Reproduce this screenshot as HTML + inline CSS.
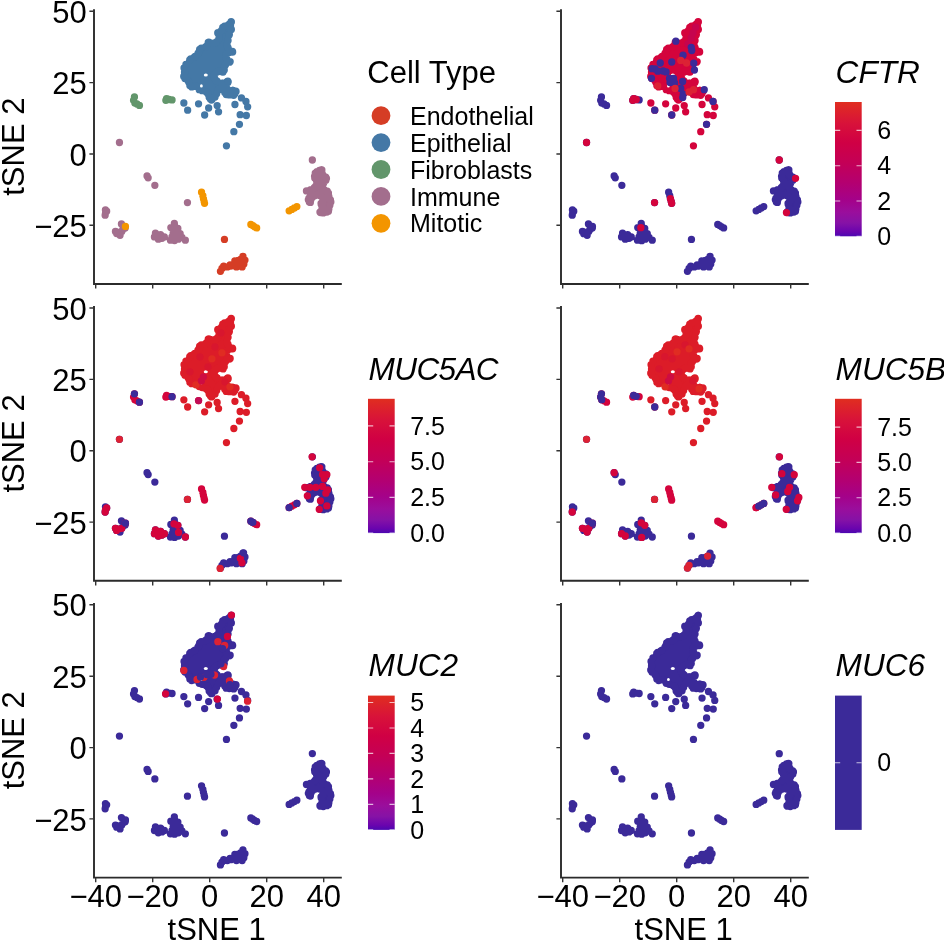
<!DOCTYPE html>
<html><head><meta charset="utf-8"><style>html,body{margin:0;padding:0;background:#fff;overflow:hidden;font-family:'Liberation Sans',sans-serif;}svg{display:block;will-change:transform}</style></head>
<body><svg width="944" height="941" viewBox="0 0 944 941">
<rect width="944" height="941" fill="#fff"/>
<defs><linearGradient id="grad" x1="0" y1="1" x2="0" y2="0"><stop offset="0.0" stop-color="#4C08B0"/><stop offset="0.035" stop-color="#6A04AE"/><stop offset="0.1" stop-color="#8612A6"/><stop offset="0.18" stop-color="#9A0E9C"/><stop offset="0.27" stop-color="#A4028A"/><stop offset="0.4" stop-color="#B40070"/><stop offset="0.55" stop-color="#C40056"/><stop offset="0.7" stop-color="#D00044"/><stop offset="0.84" stop-color="#D8123A"/><stop offset="1.0" stop-color="#E02E20"/></linearGradient></defs>
<path d="M94.00 9.30V284.00H341.80" fill="none" stroke="#2b2b2b" stroke-width="1.9"/>
<path d="M89.40 11.20H94.00M89.40 82.60H94.00M89.40 154.00H94.00M89.40 225.30H94.00M95.70 284.00V288.60M152.70 284.00V288.60M209.70 284.00V288.60M266.70 284.00V288.60M323.70 284.00V288.60" stroke="#333" stroke-width="1.4" fill="none"/>
<text x="86.80" y="22.80" font-family="Liberation Sans, sans-serif" font-size="31" text-anchor="end">50</text>
<text x="86.80" y="94.20" font-family="Liberation Sans, sans-serif" font-size="31" text-anchor="end">25</text>
<text x="86.80" y="165.60" font-family="Liberation Sans, sans-serif" font-size="31" text-anchor="end">0</text>
<text x="86.80" y="236.90" font-family="Liberation Sans, sans-serif" font-size="31" text-anchor="end">−25</text>
<text transform="translate(24 146.65) rotate(-90)" font-family="Liberation Sans, sans-serif" font-size="31" text-anchor="middle">tSNE 2</text>
<path d="M561.00 9.30V284.00H808.80" fill="none" stroke="#2b2b2b" stroke-width="1.9"/>
<path d="M556.40 11.20H561.00M556.40 82.60H561.00M556.40 154.00H561.00M556.40 225.30H561.00M562.70 284.00V288.60M619.70 284.00V288.60M676.70 284.00V288.60M733.70 284.00V288.60M790.70 284.00V288.60" stroke="#333" stroke-width="1.4" fill="none"/>
<path d="M94.00 306.10V580.80H341.80" fill="none" stroke="#2b2b2b" stroke-width="1.9"/>
<path d="M89.40 308.00H94.00M89.40 379.40H94.00M89.40 450.80H94.00M89.40 522.10H94.00M95.70 580.80V585.40M152.70 580.80V585.40M209.70 580.80V585.40M266.70 580.80V585.40M323.70 580.80V585.40" stroke="#333" stroke-width="1.4" fill="none"/>
<text x="86.80" y="319.60" font-family="Liberation Sans, sans-serif" font-size="31" text-anchor="end">50</text>
<text x="86.80" y="391.00" font-family="Liberation Sans, sans-serif" font-size="31" text-anchor="end">25</text>
<text x="86.80" y="462.40" font-family="Liberation Sans, sans-serif" font-size="31" text-anchor="end">0</text>
<text x="86.80" y="533.70" font-family="Liberation Sans, sans-serif" font-size="31" text-anchor="end">−25</text>
<text transform="translate(24 443.45) rotate(-90)" font-family="Liberation Sans, sans-serif" font-size="31" text-anchor="middle">tSNE 2</text>
<path d="M561.00 306.10V580.80H808.80" fill="none" stroke="#2b2b2b" stroke-width="1.9"/>
<path d="M556.40 308.00H561.00M556.40 379.40H561.00M556.40 450.80H561.00M556.40 522.10H561.00M562.70 580.80V585.40M619.70 580.80V585.40M676.70 580.80V585.40M733.70 580.80V585.40M790.70 580.80V585.40" stroke="#333" stroke-width="1.4" fill="none"/>
<path d="M94.00 602.90V877.60H341.80" fill="none" stroke="#2b2b2b" stroke-width="1.9"/>
<path d="M89.40 604.80H94.00M89.40 676.20H94.00M89.40 747.60H94.00M89.40 818.90H94.00M95.70 877.60V882.20M152.70 877.60V882.20M209.70 877.60V882.20M266.70 877.60V882.20M323.70 877.60V882.20" stroke="#333" stroke-width="1.4" fill="none"/>
<text x="86.80" y="616.40" font-family="Liberation Sans, sans-serif" font-size="31" text-anchor="end">50</text>
<text x="86.80" y="687.80" font-family="Liberation Sans, sans-serif" font-size="31" text-anchor="end">25</text>
<text x="86.80" y="759.20" font-family="Liberation Sans, sans-serif" font-size="31" text-anchor="end">0</text>
<text x="86.80" y="830.50" font-family="Liberation Sans, sans-serif" font-size="31" text-anchor="end">−25</text>
<text transform="translate(24 740.25) rotate(-90)" font-family="Liberation Sans, sans-serif" font-size="31" text-anchor="middle">tSNE 2</text>
<text x="95.70" y="906.90" font-family="Liberation Sans, sans-serif" font-size="31" text-anchor="middle">−40</text>
<text x="152.70" y="906.90" font-family="Liberation Sans, sans-serif" font-size="31" text-anchor="middle">−20</text>
<text x="209.70" y="906.90" font-family="Liberation Sans, sans-serif" font-size="31" text-anchor="middle">0</text>
<text x="266.70" y="906.90" font-family="Liberation Sans, sans-serif" font-size="31" text-anchor="middle">20</text>
<text x="323.70" y="906.90" font-family="Liberation Sans, sans-serif" font-size="31" text-anchor="middle">40</text>
<text x="216.70" y="940.0" font-family="Liberation Sans, sans-serif" font-size="31" text-anchor="middle">tSNE 1</text>
<path d="M561.00 602.90V877.60H808.80" fill="none" stroke="#2b2b2b" stroke-width="1.9"/>
<path d="M556.40 604.80H561.00M556.40 676.20H561.00M556.40 747.60H561.00M556.40 818.90H561.00M562.70 877.60V882.20M619.70 877.60V882.20M676.70 877.60V882.20M733.70 877.60V882.20M790.70 877.60V882.20" stroke="#333" stroke-width="1.4" fill="none"/>
<text x="562.70" y="906.90" font-family="Liberation Sans, sans-serif" font-size="31" text-anchor="middle">−40</text>
<text x="619.70" y="906.90" font-family="Liberation Sans, sans-serif" font-size="31" text-anchor="middle">−20</text>
<text x="676.70" y="906.90" font-family="Liberation Sans, sans-serif" font-size="31" text-anchor="middle">0</text>
<text x="733.70" y="906.90" font-family="Liberation Sans, sans-serif" font-size="31" text-anchor="middle">20</text>
<text x="790.70" y="906.90" font-family="Liberation Sans, sans-serif" font-size="31" text-anchor="middle">40</text>
<text x="683.70" y="940.0" font-family="Liberation Sans, sans-serif" font-size="31" text-anchor="middle">tSNE 1</text>
<defs><path id="epip" d="M231.3 18.4L229.4 20.4L228.0 22.4L228.0 22.5L227.9 22.5L227.9 22.6L227.8 22.6L227.7 22.7L227.7 22.7L227.6 22.8L223.6 24.1L220.9 25.9L220.0 29.0L219.9 29.1L219.9 29.2L219.9 29.3L219.8 29.4L219.7 29.4L219.7 29.5L219.6 29.6L219.5 29.6L219.4 29.6L216.3 30.9L215.3 32.9L217.1 36.6L217.1 36.7L217.2 36.8L217.2 36.9L217.2 36.9L217.2 37.0L217.2 37.1L217.2 37.2L217.2 37.3L217.1 37.4L217.1 37.4L217.0 37.5L215.0 40.3L215.0 40.4L214.9 40.5L214.9 40.5L214.8 40.6L214.7 40.6L214.6 40.6L214.6 40.7L214.5 40.7L214.4 40.7L211.6 41.0L211.5 41.0L211.4 41.0L211.3 41.0L211.3 41.0L211.2 40.9L211.1 40.9L211.0 40.9L208.7 39.5L206.4 41.1L205.5 44.2L205.4 44.2L205.4 44.3L205.3 44.4L205.3 44.5L205.2 44.5L205.2 44.6L205.1 44.7L205.0 44.7L204.9 44.7L204.9 44.8L200.2 46.1L197.8 47.9L196.6 51.8L196.5 51.9L196.5 51.9L196.4 52.0L196.4 52.1L196.3 52.1L193.5 54.9L193.5 55.0L193.4 55.1L193.3 55.1L189.3 57.0L188.1 58.4L184.1 63.1L181.8 67.6L182.4 72.1L182.4 72.2L182.4 72.3L182.4 72.4L181.5 76.8L183.3 79.9L186.6 82.5L186.6 82.5L186.7 82.6L186.7 82.7L186.8 82.7L186.8 82.8L186.8 82.9L186.9 83.0L187.9 86.9L191.0 89.2L195.6 88.5L195.7 88.5L195.7 88.5L195.8 88.5L195.9 88.5L196.0 88.6L196.1 88.6L196.2 88.6L196.2 88.7L196.3 88.7L196.4 88.8L196.4 88.9L196.5 88.9L196.5 89.0L197.7 91.5L201.5 92.7L201.5 92.7L205.6 94.1L205.7 94.2L205.8 94.2L205.8 94.3L205.9 94.3L206.0 94.4L206.0 94.5L206.1 94.5L206.1 94.6L206.1 94.7L206.2 94.8L207.1 98.3L208.7 100.4L211.2 103.1L213.4 101.3L216.8 98.4L218.7 94.6L220.2 91.1L220.2 91.1L220.3 91.0L220.3 90.9L220.4 90.9L220.4 90.8L220.5 90.7L220.6 90.7L220.7 90.7L220.7 90.6L220.8 90.6L220.9 90.6L221.0 90.6L221.1 90.6L221.2 90.6L221.3 90.6L221.4 90.7L221.4 90.7L221.5 90.8L221.6 90.8L221.6 90.9L221.7 90.9L221.8 91.0L221.8 91.1L221.8 91.2L222.8 93.6L225.0 96.6L229.1 97.1L234.6 97.7L236.7 95.0L238.6 91.5L237.3 89.1L233.3 88.4L233.3 88.4L227.8 86.9L227.7 86.8L227.6 86.8L227.5 86.8L227.4 86.7L227.4 86.7L227.3 86.6L227.3 86.5L227.2 86.4L227.2 86.4L227.1 86.3L227.1 86.2L227.1 86.1L227.1 86.0L227.1 85.9L227.1 85.8L227.1 85.7L227.2 85.7L227.2 85.6L227.2 85.5L227.3 85.4L227.4 85.4L227.4 85.3L227.5 85.3L229.4 84.0L230.7 81.9L229.6 80.0L226.2 79.7L223.7 81.3L223.6 81.3L223.5 81.3L223.4 81.4L223.3 81.4L223.3 81.4L223.2 81.4L223.1 81.4L223.0 81.4L222.9 81.4L222.8 81.3L218.0 79.2L218.0 79.2L217.9 79.1L217.8 79.1L217.8 79.0L217.7 79.0L217.7 78.9L216.3 76.8L216.2 76.7L216.2 76.6L216.1 76.6L216.1 76.5L216.1 76.4L216.1 76.3L216.1 76.2L216.1 76.1L216.1 76.0L216.2 75.9L216.2 75.9L216.3 75.8L216.3 75.7L216.4 75.6L218.5 73.6L218.5 73.6L218.6 73.5L218.7 73.5L218.8 73.5L218.9 73.4L219.0 73.4L219.1 73.4L219.1 73.4L219.2 73.4L219.3 73.4L222.0 74.1L224.1 74.7L226.4 70.6L226.4 67.4L226.4 67.3L226.4 67.2L226.4 67.1L226.5 67.1L226.5 67.0L226.6 66.9L226.6 66.8L226.7 66.8L226.7 66.7L226.8 66.7L230.9 63.9L233.1 61.8L232.2 60.4L228.1 57.0L228.1 56.9L228.0 56.9L228.0 56.8L227.9 56.7L227.9 56.6L227.8 56.6L227.8 56.5L227.8 56.4L227.8 56.3L227.8 56.2L227.8 56.1L227.8 56.1L227.9 56.0L227.9 55.9L227.9 55.8L228.0 55.7L228.0 55.7L228.1 55.6L228.2 55.6L229.6 54.6L229.6 54.5L229.7 54.5L229.8 54.5L229.9 54.4L230.0 54.4L230.0 54.4L233.7 54.1L235.2 52.1L234.2 50.0L229.5 46.0L229.4 45.9L229.4 45.9L229.3 45.8L229.3 45.7L229.3 45.6L229.2 45.5L229.2 45.4L229.2 45.4L229.2 45.3L229.2 45.2L229.2 45.1L230.2 41.0L231.3 35.5L231.3 35.4L231.4 35.4L233.6 29.5L232.6 26.3L232.6 26.2L232.6 26.1L232.6 26.0L232.6 25.9L232.6 25.9L232.6 25.8L233.7 21.4Z"/><path id="epib" d="M224.4 82.1a3.65 3.65 0 1 0 7.3 0a3.65 3.65 0 1 0 -7.3 0M223.1 82.0a3.65 3.65 0 1 0 7.3 0a3.65 3.65 0 1 0 -7.3 0M221.2 83.1a3.65 3.65 0 1 0 7.3 0a3.65 3.65 0 1 0 -7.3 0M220.9 83.3a3.65 3.65 0 1 0 7.3 0a3.65 3.65 0 1 0 -7.3 0M220.6 83.4a3.65 3.65 0 1 0 7.3 0a3.65 3.65 0 1 0 -7.3 0M220.3 83.5a3.65 3.65 0 1 0 7.3 0a3.65 3.65 0 1 0 -7.3 0M220.1 83.6a3.65 3.65 0 1 0 7.3 0a3.65 3.65 0 1 0 -7.3 0M219.8 83.6a3.65 3.65 0 1 0 7.3 0a3.65 3.65 0 1 0 -7.3 0M219.5 83.6a3.65 3.65 0 1 0 7.3 0a3.65 3.65 0 1 0 -7.3 0M219.2 83.6a3.65 3.65 0 1 0 7.3 0a3.65 3.65 0 1 0 -7.3 0M218.9 83.5a3.65 3.65 0 1 0 7.3 0a3.65 3.65 0 1 0 -7.3 0M218.6 83.4a3.65 3.65 0 1 0 7.3 0a3.65 3.65 0 1 0 -7.3 0M218.3 83.3a3.65 3.65 0 1 0 7.3 0a3.65 3.65 0 1 0 -7.3 0M213.5 81.2a3.65 3.65 0 1 0 7.3 0a3.65 3.65 0 1 0 -7.3 0M213.2 81.1a3.65 3.65 0 1 0 7.3 0a3.65 3.65 0 1 0 -7.3 0M213.0 81.0a3.65 3.65 0 1 0 7.3 0a3.65 3.65 0 1 0 -7.3 0M212.8 80.8a3.65 3.65 0 1 0 7.3 0a3.65 3.65 0 1 0 -7.3 0M212.5 80.6a3.65 3.65 0 1 0 7.3 0a3.65 3.65 0 1 0 -7.3 0M212.3 80.4a3.65 3.65 0 1 0 7.3 0a3.65 3.65 0 1 0 -7.3 0M212.2 80.1a3.65 3.65 0 1 0 7.3 0a3.65 3.65 0 1 0 -7.3 0M210.8 78.0a3.65 3.65 0 1 0 7.3 0a3.65 3.65 0 1 0 -7.3 0M210.6 77.8a3.65 3.65 0 1 0 7.3 0a3.65 3.65 0 1 0 -7.3 0M210.5 77.5a3.65 3.65 0 1 0 7.3 0a3.65 3.65 0 1 0 -7.3 0M210.4 77.2a3.65 3.65 0 1 0 7.3 0a3.65 3.65 0 1 0 -7.3 0M210.3 76.9a3.65 3.65 0 1 0 7.3 0a3.65 3.65 0 1 0 -7.3 0M210.3 76.6a3.65 3.65 0 1 0 7.3 0a3.65 3.65 0 1 0 -7.3 0M210.3 76.3a3.65 3.65 0 1 0 7.3 0a3.65 3.65 0 1 0 -7.3 0M210.3 76.0a3.65 3.65 0 1 0 7.3 0a3.65 3.65 0 1 0 -7.3 0M210.3 75.7a3.65 3.65 0 1 0 7.3 0a3.65 3.65 0 1 0 -7.3 0M210.4 75.4a3.65 3.65 0 1 0 7.3 0a3.65 3.65 0 1 0 -7.3 0M210.5 75.1a3.65 3.65 0 1 0 7.3 0a3.65 3.65 0 1 0 -7.3 0M210.6 74.8a3.65 3.65 0 1 0 7.3 0a3.65 3.65 0 1 0 -7.3 0M210.8 74.5a3.65 3.65 0 1 0 7.3 0a3.65 3.65 0 1 0 -7.3 0M211.0 74.3a3.65 3.65 0 1 0 7.3 0a3.65 3.65 0 1 0 -7.3 0M211.2 74.1a3.65 3.65 0 1 0 7.3 0a3.65 3.65 0 1 0 -7.3 0M213.3 72.1a3.65 3.65 0 1 0 7.3 0a3.65 3.65 0 1 0 -7.3 0M213.6 71.9a3.65 3.65 0 1 0 7.3 0a3.65 3.65 0 1 0 -7.3 0M213.8 71.7a3.65 3.65 0 1 0 7.3 0a3.65 3.65 0 1 0 -7.3 0M214.1 71.5a3.65 3.65 0 1 0 7.3 0a3.65 3.65 0 1 0 -7.3 0M214.4 71.4a3.65 3.65 0 1 0 7.3 0a3.65 3.65 0 1 0 -7.3 0M214.7 71.3a3.65 3.65 0 1 0 7.3 0a3.65 3.65 0 1 0 -7.3 0M215.0 71.2a3.65 3.65 0 1 0 7.3 0a3.65 3.65 0 1 0 -7.3 0M215.3 71.2a3.65 3.65 0 1 0 7.3 0a3.65 3.65 0 1 0 -7.3 0M215.6 71.2a3.65 3.65 0 1 0 7.3 0a3.65 3.65 0 1 0 -7.3 0M215.9 71.2a3.65 3.65 0 1 0 7.3 0a3.65 3.65 0 1 0 -7.3 0M216.2 71.3a3.65 3.65 0 1 0 7.3 0a3.65 3.65 0 1 0 -7.3 0M218.9 72.0a3.65 3.65 0 1 0 7.3 0a3.65 3.65 0 1 0 -7.3 0M219.4 72.1a3.65 3.65 0 1 0 7.3 0a3.65 3.65 0 1 0 -7.3 0M220.6 70.0a3.65 3.65 0 1 0 7.3 0a3.65 3.65 0 1 0 -7.3 0M220.6 67.4a3.65 3.65 0 1 0 7.3 0a3.65 3.65 0 1 0 -7.3 0M220.6 67.1a3.65 3.65 0 1 0 7.3 0a3.65 3.65 0 1 0 -7.3 0M220.6 66.8a3.65 3.65 0 1 0 7.3 0a3.65 3.65 0 1 0 -7.3 0M220.7 66.5a3.65 3.65 0 1 0 7.3 0a3.65 3.65 0 1 0 -7.3 0M220.8 66.2a3.65 3.65 0 1 0 7.3 0a3.65 3.65 0 1 0 -7.3 0M220.9 65.9a3.65 3.65 0 1 0 7.3 0a3.65 3.65 0 1 0 -7.3 0M221.1 65.7a3.65 3.65 0 1 0 7.3 0a3.65 3.65 0 1 0 -7.3 0M221.3 65.4a3.65 3.65 0 1 0 7.3 0a3.65 3.65 0 1 0 -7.3 0M221.5 65.2a3.65 3.65 0 1 0 7.3 0a3.65 3.65 0 1 0 -7.3 0M221.7 65.0a3.65 3.65 0 1 0 7.3 0a3.65 3.65 0 1 0 -7.3 0M221.9 64.8a3.65 3.65 0 1 0 7.3 0a3.65 3.65 0 1 0 -7.3 0M225.9 62.2a3.65 3.65 0 1 0 7.3 0a3.65 3.65 0 1 0 -7.3 0M226.5 61.6a3.65 3.65 0 1 0 7.3 0a3.65 3.65 0 1 0 -7.3 0M223.1 58.7a3.65 3.65 0 1 0 7.3 0a3.65 3.65 0 1 0 -7.3 0M222.8 58.5a3.65 3.65 0 1 0 7.3 0a3.65 3.65 0 1 0 -7.3 0M222.6 58.3a3.65 3.65 0 1 0 7.3 0a3.65 3.65 0 1 0 -7.3 0M222.5 58.0a3.65 3.65 0 1 0 7.3 0a3.65 3.65 0 1 0 -7.3 0M222.3 57.8a3.65 3.65 0 1 0 7.3 0a3.65 3.65 0 1 0 -7.3 0M222.2 57.5a3.65 3.65 0 1 0 7.3 0a3.65 3.65 0 1 0 -7.3 0M222.1 57.2a3.65 3.65 0 1 0 7.3 0a3.65 3.65 0 1 0 -7.3 0M222.0 56.9a3.65 3.65 0 1 0 7.3 0a3.65 3.65 0 1 0 -7.3 0M222.0 56.6a3.65 3.65 0 1 0 7.3 0a3.65 3.65 0 1 0 -7.3 0M222.0 56.3a3.65 3.65 0 1 0 7.3 0a3.65 3.65 0 1 0 -7.3 0M222.0 56.0a3.65 3.65 0 1 0 7.3 0a3.65 3.65 0 1 0 -7.3 0M222.0 55.7a3.65 3.65 0 1 0 7.3 0a3.65 3.65 0 1 0 -7.3 0M222.1 55.5a3.65 3.65 0 1 0 7.3 0a3.65 3.65 0 1 0 -7.3 0M222.2 55.2a3.65 3.65 0 1 0 7.3 0a3.65 3.65 0 1 0 -7.3 0M222.3 54.9a3.65 3.65 0 1 0 7.3 0a3.65 3.65 0 1 0 -7.3 0M222.4 54.6a3.65 3.65 0 1 0 7.3 0a3.65 3.65 0 1 0 -7.3 0M222.6 54.4a3.65 3.65 0 1 0 7.3 0a3.65 3.65 0 1 0 -7.3 0M222.8 54.2a3.65 3.65 0 1 0 7.3 0a3.65 3.65 0 1 0 -7.3 0M223.0 54.0a3.65 3.65 0 1 0 7.3 0a3.65 3.65 0 1 0 -7.3 0M223.2 53.8a3.65 3.65 0 1 0 7.3 0a3.65 3.65 0 1 0 -7.3 0M224.6 52.8a3.65 3.65 0 1 0 7.3 0a3.65 3.65 0 1 0 -7.3 0M224.9 52.6a3.65 3.65 0 1 0 7.3 0a3.65 3.65 0 1 0 -7.3 0M225.1 52.5a3.65 3.65 0 1 0 7.3 0a3.65 3.65 0 1 0 -7.3 0M225.4 52.4a3.65 3.65 0 1 0 7.3 0a3.65 3.65 0 1 0 -7.3 0M225.7 52.3a3.65 3.65 0 1 0 7.3 0a3.65 3.65 0 1 0 -7.3 0M225.9 52.2a3.65 3.65 0 1 0 7.3 0a3.65 3.65 0 1 0 -7.3 0M226.2 52.2a3.65 3.65 0 1 0 7.3 0a3.65 3.65 0 1 0 -7.3 0M228.9 52.0a3.65 3.65 0 1 0 7.3 0a3.65 3.65 0 1 0 -7.3 0M229.0 51.9a3.65 3.65 0 1 0 7.3 0a3.65 3.65 0 1 0 -7.3 0M228.8 51.3a3.65 3.65 0 1 0 7.3 0a3.65 3.65 0 1 0 -7.3 0M224.4 47.7a3.65 3.65 0 1 0 7.3 0a3.65 3.65 0 1 0 -7.3 0M224.2 47.4a3.65 3.65 0 1 0 7.3 0a3.65 3.65 0 1 0 -7.3 0M224.0 47.2a3.65 3.65 0 1 0 7.3 0a3.65 3.65 0 1 0 -7.3 0M223.8 47.0a3.65 3.65 0 1 0 7.3 0a3.65 3.65 0 1 0 -7.3 0M223.7 46.7a3.65 3.65 0 1 0 7.3 0a3.65 3.65 0 1 0 -7.3 0M223.6 46.4a3.65 3.65 0 1 0 7.3 0a3.65 3.65 0 1 0 -7.3 0M223.5 46.1a3.65 3.65 0 1 0 7.3 0a3.65 3.65 0 1 0 -7.3 0M223.4 45.8a3.65 3.65 0 1 0 7.3 0a3.65 3.65 0 1 0 -7.3 0M223.4 45.5a3.65 3.65 0 1 0 7.3 0a3.65 3.65 0 1 0 -7.3 0M223.4 45.2a3.65 3.65 0 1 0 7.3 0a3.65 3.65 0 1 0 -7.3 0M223.4 44.9a3.65 3.65 0 1 0 7.3 0a3.65 3.65 0 1 0 -7.3 0M223.4 44.6a3.65 3.65 0 1 0 7.3 0a3.65 3.65 0 1 0 -7.3 0M224.4 40.5a3.65 3.65 0 1 0 7.3 0a3.65 3.65 0 1 0 -7.3 0M225.5 35.1a3.65 3.65 0 1 0 7.3 0a3.65 3.65 0 1 0 -7.3 0M225.6 34.8a3.65 3.65 0 1 0 7.3 0a3.65 3.65 0 1 0 -7.3 0M225.7 34.6a3.65 3.65 0 1 0 7.3 0a3.65 3.65 0 1 0 -7.3 0M227.7 29.4a3.65 3.65 0 1 0 7.3 0a3.65 3.65 0 1 0 -7.3 0M226.9 26.9a3.65 3.65 0 1 0 7.3 0a3.65 3.65 0 1 0 -7.3 0M226.8 26.7a3.65 3.65 0 1 0 7.3 0a3.65 3.65 0 1 0 -7.3 0M226.8 26.4a3.65 3.65 0 1 0 7.3 0a3.65 3.65 0 1 0 -7.3 0M226.8 26.1a3.65 3.65 0 1 0 7.3 0a3.65 3.65 0 1 0 -7.3 0M226.8 25.8a3.65 3.65 0 1 0 7.3 0a3.65 3.65 0 1 0 -7.3 0M226.8 25.5a3.65 3.65 0 1 0 7.3 0a3.65 3.65 0 1 0 -7.3 0M226.8 25.2a3.65 3.65 0 1 0 7.3 0a3.65 3.65 0 1 0 -7.3 0M227.7 21.9a3.65 3.65 0 1 0 7.3 0a3.65 3.65 0 1 0 -7.3 0M227.5 21.7a3.65 3.65 0 1 0 7.3 0a3.65 3.65 0 1 0 -7.3 0M226.2 23.6a3.65 3.65 0 1 0 7.3 0a3.65 3.65 0 1 0 -7.3 0M226.1 23.9a3.65 3.65 0 1 0 7.3 0a3.65 3.65 0 1 0 -7.3 0M225.9 24.1a3.65 3.65 0 1 0 7.3 0a3.65 3.65 0 1 0 -7.3 0M225.7 24.3a3.65 3.65 0 1 0 7.3 0a3.65 3.65 0 1 0 -7.3 0M225.4 24.4a3.65 3.65 0 1 0 7.3 0a3.65 3.65 0 1 0 -7.3 0M225.2 24.6a3.65 3.65 0 1 0 7.3 0a3.65 3.65 0 1 0 -7.3 0M224.9 24.7a3.65 3.65 0 1 0 7.3 0a3.65 3.65 0 1 0 -7.3 0M224.7 24.8a3.65 3.65 0 1 0 7.3 0a3.65 3.65 0 1 0 -7.3 0M220.9 26.1a3.65 3.65 0 1 0 7.3 0a3.65 3.65 0 1 0 -7.3 0M219.1 27.3a3.65 3.65 0 1 0 7.3 0a3.65 3.65 0 1 0 -7.3 0M218.4 29.7a3.65 3.65 0 1 0 7.3 0a3.65 3.65 0 1 0 -7.3 0M218.3 29.9a3.65 3.65 0 1 0 7.3 0a3.65 3.65 0 1 0 -7.3 0M218.2 30.2a3.65 3.65 0 1 0 7.3 0a3.65 3.65 0 1 0 -7.3 0M218.0 30.5a3.65 3.65 0 1 0 7.3 0a3.65 3.65 0 1 0 -7.3 0M217.9 30.8a3.65 3.65 0 1 0 7.3 0a3.65 3.65 0 1 0 -7.3 0M217.6 31.0a3.65 3.65 0 1 0 7.3 0a3.65 3.65 0 1 0 -7.3 0M217.4 31.2a3.65 3.65 0 1 0 7.3 0a3.65 3.65 0 1 0 -7.3 0M217.2 31.4a3.65 3.65 0 1 0 7.3 0a3.65 3.65 0 1 0 -7.3 0M216.9 31.5a3.65 3.65 0 1 0 7.3 0a3.65 3.65 0 1 0 -7.3 0M216.6 31.7a3.65 3.65 0 1 0 7.3 0a3.65 3.65 0 1 0 -7.3 0M214.2 32.6a3.65 3.65 0 1 0 7.3 0a3.65 3.65 0 1 0 -7.3 0M214.1 32.9a3.65 3.65 0 1 0 7.3 0a3.65 3.65 0 1 0 -7.3 0M215.4 35.6a3.65 3.65 0 1 0 7.3 0a3.65 3.65 0 1 0 -7.3 0M215.6 35.9a3.65 3.65 0 1 0 7.3 0a3.65 3.65 0 1 0 -7.3 0M215.6 36.2a3.65 3.65 0 1 0 7.3 0a3.65 3.65 0 1 0 -7.3 0M215.7 36.5a3.65 3.65 0 1 0 7.3 0a3.65 3.65 0 1 0 -7.3 0M215.7 36.8a3.65 3.65 0 1 0 7.3 0a3.65 3.65 0 1 0 -7.3 0M215.7 37.1a3.65 3.65 0 1 0 7.3 0a3.65 3.65 0 1 0 -7.3 0M215.7 37.4a3.65 3.65 0 1 0 7.3 0a3.65 3.65 0 1 0 -7.3 0M215.7 37.7a3.65 3.65 0 1 0 7.3 0a3.65 3.65 0 1 0 -7.3 0M215.6 38.0a3.65 3.65 0 1 0 7.3 0a3.65 3.65 0 1 0 -7.3 0M215.5 38.3a3.65 3.65 0 1 0 7.3 0a3.65 3.65 0 1 0 -7.3 0M215.3 38.5a3.65 3.65 0 1 0 7.3 0a3.65 3.65 0 1 0 -7.3 0M215.2 38.8a3.65 3.65 0 1 0 7.3 0a3.65 3.65 0 1 0 -7.3 0M213.2 41.6a3.65 3.65 0 1 0 7.3 0a3.65 3.65 0 1 0 -7.3 0M213.0 41.8a3.65 3.65 0 1 0 7.3 0a3.65 3.65 0 1 0 -7.3 0M212.8 42.0a3.65 3.65 0 1 0 7.3 0a3.65 3.65 0 1 0 -7.3 0M212.6 42.2a3.65 3.65 0 1 0 7.3 0a3.65 3.65 0 1 0 -7.3 0M212.3 42.4a3.65 3.65 0 1 0 7.3 0a3.65 3.65 0 1 0 -7.3 0M212.1 42.5a3.65 3.65 0 1 0 7.3 0a3.65 3.65 0 1 0 -7.3 0M211.8 42.7a3.65 3.65 0 1 0 7.3 0a3.65 3.65 0 1 0 -7.3 0M211.5 42.8a3.65 3.65 0 1 0 7.3 0a3.65 3.65 0 1 0 -7.3 0M211.3 42.8a3.65 3.65 0 1 0 7.3 0a3.65 3.65 0 1 0 -7.3 0M211.0 42.9a3.65 3.65 0 1 0 7.3 0a3.65 3.65 0 1 0 -7.3 0M208.2 43.2a3.65 3.65 0 1 0 7.3 0a3.65 3.65 0 1 0 -7.3 0M207.9 43.2a3.65 3.65 0 1 0 7.3 0a3.65 3.65 0 1 0 -7.3 0M207.6 43.2a3.65 3.65 0 1 0 7.3 0a3.65 3.65 0 1 0 -7.3 0M207.3 43.2a3.65 3.65 0 1 0 7.3 0a3.65 3.65 0 1 0 -7.3 0M207.0 43.1a3.65 3.65 0 1 0 7.3 0a3.65 3.65 0 1 0 -7.3 0M206.8 43.0a3.65 3.65 0 1 0 7.3 0a3.65 3.65 0 1 0 -7.3 0M206.5 42.9a3.65 3.65 0 1 0 7.3 0a3.65 3.65 0 1 0 -7.3 0M206.2 42.7a3.65 3.65 0 1 0 7.3 0a3.65 3.65 0 1 0 -7.3 0M205.1 42.1a3.65 3.65 0 1 0 7.3 0a3.65 3.65 0 1 0 -7.3 0M204.6 42.4a3.65 3.65 0 1 0 7.3 0a3.65 3.65 0 1 0 -7.3 0M203.9 44.8a3.65 3.65 0 1 0 7.3 0a3.65 3.65 0 1 0 -7.3 0M203.8 45.1a3.65 3.65 0 1 0 7.3 0a3.65 3.65 0 1 0 -7.3 0M203.7 45.3a3.65 3.65 0 1 0 7.3 0a3.65 3.65 0 1 0 -7.3 0M203.5 45.6a3.65 3.65 0 1 0 7.3 0a3.65 3.65 0 1 0 -7.3 0M203.3 45.9a3.65 3.65 0 1 0 7.3 0a3.65 3.65 0 1 0 -7.3 0M203.1 46.1a3.65 3.65 0 1 0 7.3 0a3.65 3.65 0 1 0 -7.3 0M202.9 46.3a3.65 3.65 0 1 0 7.3 0a3.65 3.65 0 1 0 -7.3 0M202.7 46.5a3.65 3.65 0 1 0 7.3 0a3.65 3.65 0 1 0 -7.3 0M202.4 46.6a3.65 3.65 0 1 0 7.3 0a3.65 3.65 0 1 0 -7.3 0M202.1 46.8a3.65 3.65 0 1 0 7.3 0a3.65 3.65 0 1 0 -7.3 0M201.8 46.9a3.65 3.65 0 1 0 7.3 0a3.65 3.65 0 1 0 -7.3 0M197.6 48.1a3.65 3.65 0 1 0 7.3 0a3.65 3.65 0 1 0 -7.3 0M196.0 49.3a3.65 3.65 0 1 0 7.3 0a3.65 3.65 0 1 0 -7.3 0M195.0 52.4a3.65 3.65 0 1 0 7.3 0a3.65 3.65 0 1 0 -7.3 0M194.9 52.7a3.65 3.65 0 1 0 7.3 0a3.65 3.65 0 1 0 -7.3 0M194.8 53.0a3.65 3.65 0 1 0 7.3 0a3.65 3.65 0 1 0 -7.3 0M194.6 53.2a3.65 3.65 0 1 0 7.3 0a3.65 3.65 0 1 0 -7.3 0M194.4 53.5a3.65 3.65 0 1 0 7.3 0a3.65 3.65 0 1 0 -7.3 0M194.2 53.7a3.65 3.65 0 1 0 7.3 0a3.65 3.65 0 1 0 -7.3 0M191.4 56.5a3.65 3.65 0 1 0 7.3 0a3.65 3.65 0 1 0 -7.3 0M191.2 56.7a3.65 3.65 0 1 0 7.3 0a3.65 3.65 0 1 0 -7.3 0M190.9 56.9a3.65 3.65 0 1 0 7.3 0a3.65 3.65 0 1 0 -7.3 0M190.6 57.1a3.65 3.65 0 1 0 7.3 0a3.65 3.65 0 1 0 -7.3 0M187.0 58.8a3.65 3.65 0 1 0 7.3 0a3.65 3.65 0 1 0 -7.3 0M186.1 59.9a3.65 3.65 0 1 0 7.3 0a3.65 3.65 0 1 0 -7.3 0M182.3 64.3a3.65 3.65 0 1 0 7.3 0a3.65 3.65 0 1 0 -7.3 0M180.4 67.9a3.65 3.65 0 1 0 7.3 0a3.65 3.65 0 1 0 -7.3 0M180.9 71.8a3.65 3.65 0 1 0 7.3 0a3.65 3.65 0 1 0 -7.3 0M180.9 72.2a3.65 3.65 0 1 0 7.3 0a3.65 3.65 0 1 0 -7.3 0M180.9 72.5a3.65 3.65 0 1 0 7.3 0a3.65 3.65 0 1 0 -7.3 0M180.9 72.8a3.65 3.65 0 1 0 7.3 0a3.65 3.65 0 1 0 -7.3 0M180.1 76.4a3.65 3.65 0 1 0 7.3 0a3.65 3.65 0 1 0 -7.3 0M181.3 78.4a3.65 3.65 0 1 0 7.3 0a3.65 3.65 0 1 0 -7.3 0M184.3 80.8a3.65 3.65 0 1 0 7.3 0a3.65 3.65 0 1 0 -7.3 0M184.5 81.0a3.65 3.65 0 1 0 7.3 0a3.65 3.65 0 1 0 -7.3 0M184.7 81.2a3.65 3.65 0 1 0 7.3 0a3.65 3.65 0 1 0 -7.3 0M184.9 81.4a3.65 3.65 0 1 0 7.3 0a3.65 3.65 0 1 0 -7.3 0M185.0 81.6a3.65 3.65 0 1 0 7.3 0a3.65 3.65 0 1 0 -7.3 0M185.2 81.9a3.65 3.65 0 1 0 7.3 0a3.65 3.65 0 1 0 -7.3 0M185.3 82.1a3.65 3.65 0 1 0 7.3 0a3.65 3.65 0 1 0 -7.3 0M185.3 82.4a3.65 3.65 0 1 0 7.3 0a3.65 3.65 0 1 0 -7.3 0M186.2 85.5a3.65 3.65 0 1 0 7.3 0a3.65 3.65 0 1 0 -7.3 0M188.0 86.9a3.65 3.65 0 1 0 7.3 0a3.65 3.65 0 1 0 -7.3 0M191.6 86.3a3.65 3.65 0 1 0 7.3 0a3.65 3.65 0 1 0 -7.3 0M191.9 86.3a3.65 3.65 0 1 0 7.3 0a3.65 3.65 0 1 0 -7.3 0M192.2 86.3a3.65 3.65 0 1 0 7.3 0a3.65 3.65 0 1 0 -7.3 0M192.5 86.3a3.65 3.65 0 1 0 7.3 0a3.65 3.65 0 1 0 -7.3 0M192.8 86.4a3.65 3.65 0 1 0 7.3 0a3.65 3.65 0 1 0 -7.3 0M193.1 86.5a3.65 3.65 0 1 0 7.3 0a3.65 3.65 0 1 0 -7.3 0M193.4 86.6a3.65 3.65 0 1 0 7.3 0a3.65 3.65 0 1 0 -7.3 0M193.7 86.8a3.65 3.65 0 1 0 7.3 0a3.65 3.65 0 1 0 -7.3 0M193.9 86.9a3.65 3.65 0 1 0 7.3 0a3.65 3.65 0 1 0 -7.3 0M194.1 87.1a3.65 3.65 0 1 0 7.3 0a3.65 3.65 0 1 0 -7.3 0M194.4 87.3a3.65 3.65 0 1 0 7.3 0a3.65 3.65 0 1 0 -7.3 0M194.6 87.6a3.65 3.65 0 1 0 7.3 0a3.65 3.65 0 1 0 -7.3 0M194.7 87.8a3.65 3.65 0 1 0 7.3 0a3.65 3.65 0 1 0 -7.3 0M194.9 88.1a3.65 3.65 0 1 0 7.3 0a3.65 3.65 0 1 0 -7.3 0M195.6 89.7a3.65 3.65 0 1 0 7.3 0a3.65 3.65 0 1 0 -7.3 0M198.5 90.7a3.65 3.65 0 1 0 7.3 0a3.65 3.65 0 1 0 -7.3 0M198.6 90.7a3.65 3.65 0 1 0 7.3 0a3.65 3.65 0 1 0 -7.3 0M202.7 92.1a3.65 3.65 0 1 0 7.3 0a3.65 3.65 0 1 0 -7.3 0M202.9 92.2a3.65 3.65 0 1 0 7.3 0a3.65 3.65 0 1 0 -7.3 0M203.2 92.3a3.65 3.65 0 1 0 7.3 0a3.65 3.65 0 1 0 -7.3 0M203.5 92.5a3.65 3.65 0 1 0 7.3 0a3.65 3.65 0 1 0 -7.3 0M203.7 92.7a3.65 3.65 0 1 0 7.3 0a3.65 3.65 0 1 0 -7.3 0M203.9 92.9a3.65 3.65 0 1 0 7.3 0a3.65 3.65 0 1 0 -7.3 0M204.1 93.1a3.65 3.65 0 1 0 7.3 0a3.65 3.65 0 1 0 -7.3 0M204.3 93.4a3.65 3.65 0 1 0 7.3 0a3.65 3.65 0 1 0 -7.3 0M204.4 93.6a3.65 3.65 0 1 0 7.3 0a3.65 3.65 0 1 0 -7.3 0M204.5 93.9a3.65 3.65 0 1 0 7.3 0a3.65 3.65 0 1 0 -7.3 0M204.6 94.2a3.65 3.65 0 1 0 7.3 0a3.65 3.65 0 1 0 -7.3 0M205.5 97.3a3.65 3.65 0 1 0 7.3 0a3.65 3.65 0 1 0 -7.3 0M206.7 99.0a3.65 3.65 0 1 0 7.3 0a3.65 3.65 0 1 0 -7.3 0M207.8 100.1a3.65 3.65 0 1 0 7.3 0a3.65 3.65 0 1 0 -7.3 0M208.4 99.6a3.65 3.65 0 1 0 7.3 0a3.65 3.65 0 1 0 -7.3 0M211.4 97.1a3.65 3.65 0 1 0 7.3 0a3.65 3.65 0 1 0 -7.3 0M213.0 93.7a3.65 3.65 0 1 0 7.3 0a3.65 3.65 0 1 0 -7.3 0M214.5 90.3a3.65 3.65 0 1 0 7.3 0a3.65 3.65 0 1 0 -7.3 0M214.6 90.0a3.65 3.65 0 1 0 7.3 0a3.65 3.65 0 1 0 -7.3 0M214.8 89.7a3.65 3.65 0 1 0 7.3 0a3.65 3.65 0 1 0 -7.3 0M215.0 89.5a3.65 3.65 0 1 0 7.3 0a3.65 3.65 0 1 0 -7.3 0M215.2 89.3a3.65 3.65 0 1 0 7.3 0a3.65 3.65 0 1 0 -7.3 0M215.4 89.1a3.65 3.65 0 1 0 7.3 0a3.65 3.65 0 1 0 -7.3 0M215.7 88.9a3.65 3.65 0 1 0 7.3 0a3.65 3.65 0 1 0 -7.3 0M215.9 88.7a3.65 3.65 0 1 0 7.3 0a3.65 3.65 0 1 0 -7.3 0M216.2 88.6a3.65 3.65 0 1 0 7.3 0a3.65 3.65 0 1 0 -7.3 0M216.5 88.5a3.65 3.65 0 1 0 7.3 0a3.65 3.65 0 1 0 -7.3 0M216.8 88.5a3.65 3.65 0 1 0 7.3 0a3.65 3.65 0 1 0 -7.3 0M217.1 88.4a3.65 3.65 0 1 0 7.3 0a3.65 3.65 0 1 0 -7.3 0M217.4 88.4a3.65 3.65 0 1 0 7.3 0a3.65 3.65 0 1 0 -7.3 0M217.7 88.4a3.65 3.65 0 1 0 7.3 0a3.65 3.65 0 1 0 -7.3 0M218.0 88.5a3.65 3.65 0 1 0 7.3 0a3.65 3.65 0 1 0 -7.3 0M218.3 88.5a3.65 3.65 0 1 0 7.3 0a3.65 3.65 0 1 0 -7.3 0M218.6 88.7a3.65 3.65 0 1 0 7.3 0a3.65 3.65 0 1 0 -7.3 0M218.8 88.8a3.65 3.65 0 1 0 7.3 0a3.65 3.65 0 1 0 -7.3 0M219.1 88.9a3.65 3.65 0 1 0 7.3 0a3.65 3.65 0 1 0 -7.3 0M219.3 89.1a3.65 3.65 0 1 0 7.3 0a3.65 3.65 0 1 0 -7.3 0M219.6 89.3a3.65 3.65 0 1 0 7.3 0a3.65 3.65 0 1 0 -7.3 0M219.8 89.6a3.65 3.65 0 1 0 7.3 0a3.65 3.65 0 1 0 -7.3 0M219.9 89.8a3.65 3.65 0 1 0 7.3 0a3.65 3.65 0 1 0 -7.3 0M220.1 90.1a3.65 3.65 0 1 0 7.3 0a3.65 3.65 0 1 0 -7.3 0M220.2 90.3a3.65 3.65 0 1 0 7.3 0a3.65 3.65 0 1 0 -7.3 0M221.1 92.5a3.65 3.65 0 1 0 7.3 0a3.65 3.65 0 1 0 -7.3 0M222.6 94.6a3.65 3.65 0 1 0 7.3 0a3.65 3.65 0 1 0 -7.3 0M225.7 94.9a3.65 3.65 0 1 0 7.3 0a3.65 3.65 0 1 0 -7.3 0M230.0 95.3a3.65 3.65 0 1 0 7.3 0a3.65 3.65 0 1 0 -7.3 0M231.2 93.8a3.65 3.65 0 1 0 7.3 0a3.65 3.65 0 1 0 -7.3 0M232.4 91.5a3.65 3.65 0 1 0 7.3 0a3.65 3.65 0 1 0 -7.3 0M232.2 91.1a3.65 3.65 0 1 0 7.3 0a3.65 3.65 0 1 0 -7.3 0M229.3 90.5a3.65 3.65 0 1 0 7.3 0a3.65 3.65 0 1 0 -7.3 0M229.0 90.5a3.65 3.65 0 1 0 7.3 0a3.65 3.65 0 1 0 -7.3 0M223.5 89.0a3.65 3.65 0 1 0 7.3 0a3.65 3.65 0 1 0 -7.3 0M223.2 88.9a3.65 3.65 0 1 0 7.3 0a3.65 3.65 0 1 0 -7.3 0M223.0 88.8a3.65 3.65 0 1 0 7.3 0a3.65 3.65 0 1 0 -7.3 0M222.7 88.6a3.65 3.65 0 1 0 7.3 0a3.65 3.65 0 1 0 -7.3 0M222.4 88.4a3.65 3.65 0 1 0 7.3 0a3.65 3.65 0 1 0 -7.3 0M222.2 88.2a3.65 3.65 0 1 0 7.3 0a3.65 3.65 0 1 0 -7.3 0M222.0 88.0a3.65 3.65 0 1 0 7.3 0a3.65 3.65 0 1 0 -7.3 0M221.8 87.8a3.65 3.65 0 1 0 7.3 0a3.65 3.65 0 1 0 -7.3 0M221.6 87.5a3.65 3.65 0 1 0 7.3 0a3.65 3.65 0 1 0 -7.3 0M221.5 87.2a3.65 3.65 0 1 0 7.3 0a3.65 3.65 0 1 0 -7.3 0M221.4 86.9a3.65 3.65 0 1 0 7.3 0a3.65 3.65 0 1 0 -7.3 0M221.3 86.6a3.65 3.65 0 1 0 7.3 0a3.65 3.65 0 1 0 -7.3 0M221.3 86.3a3.65 3.65 0 1 0 7.3 0a3.65 3.65 0 1 0 -7.3 0M221.3 86.0a3.65 3.65 0 1 0 7.3 0a3.65 3.65 0 1 0 -7.3 0M221.3 85.7a3.65 3.65 0 1 0 7.3 0a3.65 3.65 0 1 0 -7.3 0M221.3 85.4a3.65 3.65 0 1 0 7.3 0a3.65 3.65 0 1 0 -7.3 0M221.4 85.1a3.65 3.65 0 1 0 7.3 0a3.65 3.65 0 1 0 -7.3 0M221.5 84.8a3.65 3.65 0 1 0 7.3 0a3.65 3.65 0 1 0 -7.3 0M221.6 84.6a3.65 3.65 0 1 0 7.3 0a3.65 3.65 0 1 0 -7.3 0M221.8 84.3a3.65 3.65 0 1 0 7.3 0a3.65 3.65 0 1 0 -7.3 0M221.9 84.0a3.65 3.65 0 1 0 7.3 0a3.65 3.65 0 1 0 -7.3 0M222.2 83.8a3.65 3.65 0 1 0 7.3 0a3.65 3.65 0 1 0 -7.3 0M222.4 83.6a3.65 3.65 0 1 0 7.3 0a3.65 3.65 0 1 0 -7.3 0M222.6 83.4a3.65 3.65 0 1 0 7.3 0a3.65 3.65 0 1 0 -7.3 0M224.2 82.4a3.65 3.65 0 1 0 7.3 0a3.65 3.65 0 1 0 -7.3 0"/></defs>
<use href="#epip" x="0.0" y="0.0" fill="#4478A6"/><use href="#epib" x="0.0" y="0.0" fill="#4478A6"/>
<ellipse cx="205.8" cy="74.9" rx="2.0" ry="1.5" fill="#fff"/>
<ellipse cx="201.4" cy="85.9" rx="1.4" ry="1.6" fill="#fff"/>
<path d="M237.8 97.9a3.65 3.65 0 1 0 7.3 0a3.65 3.65 0 1 0 -7.3 0M242.3 101.4a3.65 3.65 0 1 0 7.3 0a3.65 3.65 0 1 0 -7.3 0M244.0 106.8a3.65 3.65 0 1 0 7.3 0a3.65 3.65 0 1 0 -7.3 0M224.2 81.2a3.65 3.65 0 1 0 7.3 0a3.65 3.65 0 1 0 -7.3 0M231.3 104.5a3.65 3.65 0 1 0 7.3 0a3.65 3.65 0 1 0 -7.3 0M236.5 114.7a3.65 3.65 0 1 0 7.3 0a3.65 3.65 0 1 0 -7.3 0M242.7 115.5a3.65 3.65 0 1 0 7.3 0a3.65 3.65 0 1 0 -7.3 0M205.0 108.0a3.65 3.65 0 1 0 7.3 0a3.65 3.65 0 1 0 -7.3 0M201.0 115.0a3.65 3.65 0 1 0 7.3 0a3.65 3.65 0 1 0 -7.3 0M213.5 105.6a3.65 3.65 0 1 0 7.3 0a3.65 3.65 0 1 0 -7.3 0M214.9 111.8a3.65 3.65 0 1 0 7.3 0a3.65 3.65 0 1 0 -7.3 0M194.9 103.8a3.65 3.65 0 1 0 7.3 0a3.65 3.65 0 1 0 -7.3 0M180.2 103.0a3.65 3.65 0 1 0 7.3 0a3.65 3.65 0 1 0 -7.3 0M184.0 110.2a3.65 3.65 0 1 0 7.3 0a3.65 3.65 0 1 0 -7.3 0M235.8 124.3a3.65 3.65 0 1 0 7.3 0a3.65 3.65 0 1 0 -7.3 0M230.2 131.7a3.65 3.65 0 1 0 7.3 0a3.65 3.65 0 1 0 -7.3 0M222.8 145.8a3.65 3.65 0 1 0 7.3 0a3.65 3.65 0 1 0 -7.3 0" fill="#4478A6"/>
<defs><path id="immp" d="M322.0 167.5L318.7 168.3L315.7 169.9L313.2 172.1L312.3 176.2L312.6 179.0L314.7 181.9L314.8 181.9L314.8 182.0L314.8 182.1L314.9 182.2L314.9 182.3L314.9 182.4L314.9 182.5L314.9 182.5L314.9 182.6L314.8 182.7L314.8 182.8L313.5 185.4L313.5 185.5L313.4 185.5L313.4 185.6L313.3 185.7L313.2 185.7L313.2 185.8L310.0 187.7L309.9 187.7L309.8 187.7L309.7 187.8L305.0 189.0L303.8 190.7L305.0 192.8L308.4 193.7L308.5 193.8L308.6 193.8L308.7 193.8L308.7 193.9L308.8 193.9L308.9 194.0L308.9 194.1L309.0 194.2L309.0 194.2L309.1 194.3L309.1 194.4L309.1 194.5L309.1 194.6L309.1 194.7L309.1 194.8L309.1 194.9L309.0 194.9L309.0 195.0L309.0 195.1L308.9 195.2L308.8 195.2L307.1 197.0L306.0 199.7L307.6 203.5L310.4 205.0L312.4 203.6L312.7 200.9L312.7 200.8L312.7 200.7L312.8 200.6L312.8 200.6L312.9 200.5L314.5 198.2L314.5 198.1L314.6 198.1L314.6 198.0L314.7 197.9L314.8 197.9L314.9 197.9L314.9 197.8L315.0 197.8L318.2 197.2L318.3 197.2L318.4 197.2L318.5 197.2L318.6 197.2L318.7 197.2L318.8 197.3L318.8 197.3L318.9 197.4L319.0 197.4L320.9 199.0L320.9 199.1L321.0 199.1L321.1 199.2L321.1 199.3L321.1 199.4L321.2 199.4L321.2 199.5L321.2 199.6L321.2 199.7L321.2 199.8L321.2 199.9L321.2 200.0L321.1 200.0L321.1 200.1L321.0 200.2L321.0 200.3L320.9 200.3L318.7 202.5L319.0 204.6L320.0 208.4L320.0 208.5L320.0 208.5L320.0 208.6L320.0 208.7L320.0 208.8L320.0 208.9L319.9 209.0L319.9 209.0L319.8 209.1L319.8 209.2L319.7 209.3L317.9 211.0L317.5 212.8L319.5 214.7L323.4 215.1L327.7 214.2L330.4 212.5L330.9 209.7L330.9 209.7L331.9 205.9L331.9 205.8L333.1 202.1L332.5 199.3L331.0 196.3L331.0 196.2L330.9 196.1L330.9 196.1L330.9 196.0L330.6 192.3L328.7 189.5L325.0 187.7L324.9 187.7L324.9 187.6L324.8 187.6L324.7 187.5L324.7 187.4L324.6 187.4L324.6 187.3L324.5 187.2L324.5 187.1L324.5 187.0L324.5 186.9L324.5 186.8L324.5 186.8L324.5 186.7L324.6 186.6L325.3 184.7L325.3 184.6L325.3 184.5L325.4 184.4L327.8 181.4L328.9 178.1L327.3 175.7L324.6 173.6L324.5 173.6L324.4 173.5L324.4 173.4L324.3 173.4L324.3 173.3L324.3 173.2L324.2 173.1L324.2 173.0L324.2 173.0L323.9 168.9Z"/><path id="immb" d="M302.8 190.9a3.65 3.65 0 1 0 7.3 0a3.65 3.65 0 1 0 -7.3 0M302.8 190.9a3.65 3.65 0 1 0 7.3 0a3.65 3.65 0 1 0 -7.3 0M305.3 191.6a3.65 3.65 0 1 0 7.3 0a3.65 3.65 0 1 0 -7.3 0M305.6 191.7a3.65 3.65 0 1 0 7.3 0a3.65 3.65 0 1 0 -7.3 0M305.9 191.8a3.65 3.65 0 1 0 7.3 0a3.65 3.65 0 1 0 -7.3 0M306.2 192.0a3.65 3.65 0 1 0 7.3 0a3.65 3.65 0 1 0 -7.3 0M306.4 192.1a3.65 3.65 0 1 0 7.3 0a3.65 3.65 0 1 0 -7.3 0M306.7 192.3a3.65 3.65 0 1 0 7.3 0a3.65 3.65 0 1 0 -7.3 0M306.9 192.6a3.65 3.65 0 1 0 7.3 0a3.65 3.65 0 1 0 -7.3 0M307.1 192.8a3.65 3.65 0 1 0 7.3 0a3.65 3.65 0 1 0 -7.3 0M307.2 193.1a3.65 3.65 0 1 0 7.3 0a3.65 3.65 0 1 0 -7.3 0M307.4 193.4a3.65 3.65 0 1 0 7.3 0a3.65 3.65 0 1 0 -7.3 0M307.5 193.6a3.65 3.65 0 1 0 7.3 0a3.65 3.65 0 1 0 -7.3 0M307.6 193.9a3.65 3.65 0 1 0 7.3 0a3.65 3.65 0 1 0 -7.3 0M307.6 194.2a3.65 3.65 0 1 0 7.3 0a3.65 3.65 0 1 0 -7.3 0M307.6 194.6a3.65 3.65 0 1 0 7.3 0a3.65 3.65 0 1 0 -7.3 0M307.6 194.9a3.65 3.65 0 1 0 7.3 0a3.65 3.65 0 1 0 -7.3 0M307.6 195.2a3.65 3.65 0 1 0 7.3 0a3.65 3.65 0 1 0 -7.3 0M307.5 195.5a3.65 3.65 0 1 0 7.3 0a3.65 3.65 0 1 0 -7.3 0M307.4 195.8a3.65 3.65 0 1 0 7.3 0a3.65 3.65 0 1 0 -7.3 0M307.3 196.0a3.65 3.65 0 1 0 7.3 0a3.65 3.65 0 1 0 -7.3 0M307.1 196.3a3.65 3.65 0 1 0 7.3 0a3.65 3.65 0 1 0 -7.3 0M306.9 196.6a3.65 3.65 0 1 0 7.3 0a3.65 3.65 0 1 0 -7.3 0M306.7 196.8a3.65 3.65 0 1 0 7.3 0a3.65 3.65 0 1 0 -7.3 0M305.3 198.2a3.65 3.65 0 1 0 7.3 0a3.65 3.65 0 1 0 -7.3 0M304.7 199.7a3.65 3.65 0 1 0 7.3 0a3.65 3.65 0 1 0 -7.3 0M305.7 201.9a3.65 3.65 0 1 0 7.3 0a3.65 3.65 0 1 0 -7.3 0M306.6 202.4a3.65 3.65 0 1 0 7.3 0a3.65 3.65 0 1 0 -7.3 0M306.7 202.4a3.65 3.65 0 1 0 7.3 0a3.65 3.65 0 1 0 -7.3 0M306.9 200.7a3.65 3.65 0 1 0 7.3 0a3.65 3.65 0 1 0 -7.3 0M306.9 200.4a3.65 3.65 0 1 0 7.3 0a3.65 3.65 0 1 0 -7.3 0M307.0 200.1a3.65 3.65 0 1 0 7.3 0a3.65 3.65 0 1 0 -7.3 0M307.1 199.8a3.65 3.65 0 1 0 7.3 0a3.65 3.65 0 1 0 -7.3 0M307.2 199.5a3.65 3.65 0 1 0 7.3 0a3.65 3.65 0 1 0 -7.3 0M307.4 199.2a3.65 3.65 0 1 0 7.3 0a3.65 3.65 0 1 0 -7.3 0M309.0 196.9a3.65 3.65 0 1 0 7.3 0a3.65 3.65 0 1 0 -7.3 0M309.2 196.7a3.65 3.65 0 1 0 7.3 0a3.65 3.65 0 1 0 -7.3 0M309.4 196.5a3.65 3.65 0 1 0 7.3 0a3.65 3.65 0 1 0 -7.3 0M309.6 196.3a3.65 3.65 0 1 0 7.3 0a3.65 3.65 0 1 0 -7.3 0M309.9 196.1a3.65 3.65 0 1 0 7.3 0a3.65 3.65 0 1 0 -7.3 0M310.1 195.9a3.65 3.65 0 1 0 7.3 0a3.65 3.65 0 1 0 -7.3 0M310.4 195.8a3.65 3.65 0 1 0 7.3 0a3.65 3.65 0 1 0 -7.3 0M310.7 195.7a3.65 3.65 0 1 0 7.3 0a3.65 3.65 0 1 0 -7.3 0M311.0 195.7a3.65 3.65 0 1 0 7.3 0a3.65 3.65 0 1 0 -7.3 0M314.2 195.1a3.65 3.65 0 1 0 7.3 0a3.65 3.65 0 1 0 -7.3 0M314.5 195.0a3.65 3.65 0 1 0 7.3 0a3.65 3.65 0 1 0 -7.3 0M314.8 195.0a3.65 3.65 0 1 0 7.3 0a3.65 3.65 0 1 0 -7.3 0M315.1 195.0a3.65 3.65 0 1 0 7.3 0a3.65 3.65 0 1 0 -7.3 0M315.4 195.1a3.65 3.65 0 1 0 7.3 0a3.65 3.65 0 1 0 -7.3 0M315.7 195.1a3.65 3.65 0 1 0 7.3 0a3.65 3.65 0 1 0 -7.3 0M316.0 195.3a3.65 3.65 0 1 0 7.3 0a3.65 3.65 0 1 0 -7.3 0M316.2 195.4a3.65 3.65 0 1 0 7.3 0a3.65 3.65 0 1 0 -7.3 0M316.5 195.5a3.65 3.65 0 1 0 7.3 0a3.65 3.65 0 1 0 -7.3 0M316.7 195.7a3.65 3.65 0 1 0 7.3 0a3.65 3.65 0 1 0 -7.3 0M318.6 197.3a3.65 3.65 0 1 0 7.3 0a3.65 3.65 0 1 0 -7.3 0M318.9 197.5a3.65 3.65 0 1 0 7.3 0a3.65 3.65 0 1 0 -7.3 0M319.1 197.8a3.65 3.65 0 1 0 7.3 0a3.65 3.65 0 1 0 -7.3 0M319.2 198.0a3.65 3.65 0 1 0 7.3 0a3.65 3.65 0 1 0 -7.3 0M319.4 198.3a3.65 3.65 0 1 0 7.3 0a3.65 3.65 0 1 0 -7.3 0M319.5 198.5a3.65 3.65 0 1 0 7.3 0a3.65 3.65 0 1 0 -7.3 0M319.6 198.8a3.65 3.65 0 1 0 7.3 0a3.65 3.65 0 1 0 -7.3 0M319.7 199.1a3.65 3.65 0 1 0 7.3 0a3.65 3.65 0 1 0 -7.3 0M319.7 199.4a3.65 3.65 0 1 0 7.3 0a3.65 3.65 0 1 0 -7.3 0M319.7 199.7a3.65 3.65 0 1 0 7.3 0a3.65 3.65 0 1 0 -7.3 0M319.7 200.0a3.65 3.65 0 1 0 7.3 0a3.65 3.65 0 1 0 -7.3 0M319.7 200.3a3.65 3.65 0 1 0 7.3 0a3.65 3.65 0 1 0 -7.3 0M319.6 200.6a3.65 3.65 0 1 0 7.3 0a3.65 3.65 0 1 0 -7.3 0M319.5 200.9a3.65 3.65 0 1 0 7.3 0a3.65 3.65 0 1 0 -7.3 0M319.4 201.2a3.65 3.65 0 1 0 7.3 0a3.65 3.65 0 1 0 -7.3 0M319.2 201.4a3.65 3.65 0 1 0 7.3 0a3.65 3.65 0 1 0 -7.3 0M319.0 201.7a3.65 3.65 0 1 0 7.3 0a3.65 3.65 0 1 0 -7.3 0M318.8 201.9a3.65 3.65 0 1 0 7.3 0a3.65 3.65 0 1 0 -7.3 0M317.4 203.3a3.65 3.65 0 1 0 7.3 0a3.65 3.65 0 1 0 -7.3 0M317.5 204.2a3.65 3.65 0 1 0 7.3 0a3.65 3.65 0 1 0 -7.3 0M318.4 207.8a3.65 3.65 0 1 0 7.3 0a3.65 3.65 0 1 0 -7.3 0M318.5 208.1a3.65 3.65 0 1 0 7.3 0a3.65 3.65 0 1 0 -7.3 0M318.5 208.4a3.65 3.65 0 1 0 7.3 0a3.65 3.65 0 1 0 -7.3 0M318.5 208.7a3.65 3.65 0 1 0 7.3 0a3.65 3.65 0 1 0 -7.3 0M318.5 209.0a3.65 3.65 0 1 0 7.3 0a3.65 3.65 0 1 0 -7.3 0M318.5 209.3a3.65 3.65 0 1 0 7.3 0a3.65 3.65 0 1 0 -7.3 0M318.4 209.6a3.65 3.65 0 1 0 7.3 0a3.65 3.65 0 1 0 -7.3 0M318.3 209.9a3.65 3.65 0 1 0 7.3 0a3.65 3.65 0 1 0 -7.3 0M318.1 210.1a3.65 3.65 0 1 0 7.3 0a3.65 3.65 0 1 0 -7.3 0M318.0 210.4a3.65 3.65 0 1 0 7.3 0a3.65 3.65 0 1 0 -7.3 0M317.8 210.6a3.65 3.65 0 1 0 7.3 0a3.65 3.65 0 1 0 -7.3 0M317.6 210.8a3.65 3.65 0 1 0 7.3 0a3.65 3.65 0 1 0 -7.3 0M316.3 212.1a3.65 3.65 0 1 0 7.3 0a3.65 3.65 0 1 0 -7.3 0M316.8 212.6a3.65 3.65 0 1 0 7.3 0a3.65 3.65 0 1 0 -7.3 0M319.6 212.9a3.65 3.65 0 1 0 7.3 0a3.65 3.65 0 1 0 -7.3 0M323.2 212.1a3.65 3.65 0 1 0 7.3 0a3.65 3.65 0 1 0 -7.3 0M324.8 211.2a3.65 3.65 0 1 0 7.3 0a3.65 3.65 0 1 0 -7.3 0M325.1 209.3a3.65 3.65 0 1 0 7.3 0a3.65 3.65 0 1 0 -7.3 0M325.2 209.1a3.65 3.65 0 1 0 7.3 0a3.65 3.65 0 1 0 -7.3 0M326.2 205.3a3.65 3.65 0 1 0 7.3 0a3.65 3.65 0 1 0 -7.3 0M326.2 205.2a3.65 3.65 0 1 0 7.3 0a3.65 3.65 0 1 0 -7.3 0M327.2 202.0a3.65 3.65 0 1 0 7.3 0a3.65 3.65 0 1 0 -7.3 0M326.8 200.0a3.65 3.65 0 1 0 7.3 0a3.65 3.65 0 1 0 -7.3 0M325.4 197.3a3.65 3.65 0 1 0 7.3 0a3.65 3.65 0 1 0 -7.3 0M325.3 197.0a3.65 3.65 0 1 0 7.3 0a3.65 3.65 0 1 0 -7.3 0M325.2 196.7a3.65 3.65 0 1 0 7.3 0a3.65 3.65 0 1 0 -7.3 0M325.1 196.4a3.65 3.65 0 1 0 7.3 0a3.65 3.65 0 1 0 -7.3 0M325.1 196.1a3.65 3.65 0 1 0 7.3 0a3.65 3.65 0 1 0 -7.3 0M324.8 193.1a3.65 3.65 0 1 0 7.3 0a3.65 3.65 0 1 0 -7.3 0M323.6 191.2a3.65 3.65 0 1 0 7.3 0a3.65 3.65 0 1 0 -7.3 0M320.4 189.7a3.65 3.65 0 1 0 7.3 0a3.65 3.65 0 1 0 -7.3 0M320.1 189.5a3.65 3.65 0 1 0 7.3 0a3.65 3.65 0 1 0 -7.3 0M319.9 189.4a3.65 3.65 0 1 0 7.3 0a3.65 3.65 0 1 0 -7.3 0M319.6 189.2a3.65 3.65 0 1 0 7.3 0a3.65 3.65 0 1 0 -7.3 0M319.4 189.0a3.65 3.65 0 1 0 7.3 0a3.65 3.65 0 1 0 -7.3 0M319.2 188.7a3.65 3.65 0 1 0 7.3 0a3.65 3.65 0 1 0 -7.3 0M319.1 188.5a3.65 3.65 0 1 0 7.3 0a3.65 3.65 0 1 0 -7.3 0M318.9 188.2a3.65 3.65 0 1 0 7.3 0a3.65 3.65 0 1 0 -7.3 0M318.8 187.9a3.65 3.65 0 1 0 7.3 0a3.65 3.65 0 1 0 -7.3 0M318.7 187.6a3.65 3.65 0 1 0 7.3 0a3.65 3.65 0 1 0 -7.3 0M318.7 187.3a3.65 3.65 0 1 0 7.3 0a3.65 3.65 0 1 0 -7.3 0M318.7 187.0a3.65 3.65 0 1 0 7.3 0a3.65 3.65 0 1 0 -7.3 0M318.7 186.7a3.65 3.65 0 1 0 7.3 0a3.65 3.65 0 1 0 -7.3 0M318.7 186.4a3.65 3.65 0 1 0 7.3 0a3.65 3.65 0 1 0 -7.3 0M318.8 186.1a3.65 3.65 0 1 0 7.3 0a3.65 3.65 0 1 0 -7.3 0M318.8 185.8a3.65 3.65 0 1 0 7.3 0a3.65 3.65 0 1 0 -7.3 0M319.5 183.9a3.65 3.65 0 1 0 7.3 0a3.65 3.65 0 1 0 -7.3 0M319.7 183.6a3.65 3.65 0 1 0 7.3 0a3.65 3.65 0 1 0 -7.3 0M319.8 183.4a3.65 3.65 0 1 0 7.3 0a3.65 3.65 0 1 0 -7.3 0M320.0 183.1a3.65 3.65 0 1 0 7.3 0a3.65 3.65 0 1 0 -7.3 0M322.2 180.3a3.65 3.65 0 1 0 7.3 0a3.65 3.65 0 1 0 -7.3 0M322.8 178.4a3.65 3.65 0 1 0 7.3 0a3.65 3.65 0 1 0 -7.3 0M322.1 177.2a3.65 3.65 0 1 0 7.3 0a3.65 3.65 0 1 0 -7.3 0M319.6 175.4a3.65 3.65 0 1 0 7.3 0a3.65 3.65 0 1 0 -7.3 0M319.4 175.2a3.65 3.65 0 1 0 7.3 0a3.65 3.65 0 1 0 -7.3 0M319.1 175.0a3.65 3.65 0 1 0 7.3 0a3.65 3.65 0 1 0 -7.3 0M319.0 174.7a3.65 3.65 0 1 0 7.3 0a3.65 3.65 0 1 0 -7.3 0M318.8 174.5a3.65 3.65 0 1 0 7.3 0a3.65 3.65 0 1 0 -7.3 0M318.7 174.2a3.65 3.65 0 1 0 7.3 0a3.65 3.65 0 1 0 -7.3 0M318.5 174.0a3.65 3.65 0 1 0 7.3 0a3.65 3.65 0 1 0 -7.3 0M318.5 173.7a3.65 3.65 0 1 0 7.3 0a3.65 3.65 0 1 0 -7.3 0M318.4 173.4a3.65 3.65 0 1 0 7.3 0a3.65 3.65 0 1 0 -7.3 0M318.4 173.1a3.65 3.65 0 1 0 7.3 0a3.65 3.65 0 1 0 -7.3 0M318.2 170.0a3.65 3.65 0 1 0 7.3 0a3.65 3.65 0 1 0 -7.3 0M317.9 169.9a3.65 3.65 0 1 0 7.3 0a3.65 3.65 0 1 0 -7.3 0M315.8 170.4a3.65 3.65 0 1 0 7.3 0a3.65 3.65 0 1 0 -7.3 0M313.3 171.7a3.65 3.65 0 1 0 7.3 0a3.65 3.65 0 1 0 -7.3 0M311.6 173.2a3.65 3.65 0 1 0 7.3 0a3.65 3.65 0 1 0 -7.3 0M310.9 176.3a3.65 3.65 0 1 0 7.3 0a3.65 3.65 0 1 0 -7.3 0M311.1 178.1a3.65 3.65 0 1 0 7.3 0a3.65 3.65 0 1 0 -7.3 0M312.8 180.6a3.65 3.65 0 1 0 7.3 0a3.65 3.65 0 1 0 -7.3 0M313.0 180.8a3.65 3.65 0 1 0 7.3 0a3.65 3.65 0 1 0 -7.3 0M313.2 181.1a3.65 3.65 0 1 0 7.3 0a3.65 3.65 0 1 0 -7.3 0M313.3 181.4a3.65 3.65 0 1 0 7.3 0a3.65 3.65 0 1 0 -7.3 0M313.4 181.7a3.65 3.65 0 1 0 7.3 0a3.65 3.65 0 1 0 -7.3 0M313.4 182.0a3.65 3.65 0 1 0 7.3 0a3.65 3.65 0 1 0 -7.3 0M313.4 182.3a3.65 3.65 0 1 0 7.3 0a3.65 3.65 0 1 0 -7.3 0M313.4 182.6a3.65 3.65 0 1 0 7.3 0a3.65 3.65 0 1 0 -7.3 0M313.4 182.9a3.65 3.65 0 1 0 7.3 0a3.65 3.65 0 1 0 -7.3 0M313.3 183.2a3.65 3.65 0 1 0 7.3 0a3.65 3.65 0 1 0 -7.3 0M313.2 183.5a3.65 3.65 0 1 0 7.3 0a3.65 3.65 0 1 0 -7.3 0M313.1 183.8a3.65 3.65 0 1 0 7.3 0a3.65 3.65 0 1 0 -7.3 0M311.8 186.4a3.65 3.65 0 1 0 7.3 0a3.65 3.65 0 1 0 -7.3 0M311.7 186.6a3.65 3.65 0 1 0 7.3 0a3.65 3.65 0 1 0 -7.3 0M311.5 186.9a3.65 3.65 0 1 0 7.3 0a3.65 3.65 0 1 0 -7.3 0M311.3 187.1a3.65 3.65 0 1 0 7.3 0a3.65 3.65 0 1 0 -7.3 0M311.1 187.3a3.65 3.65 0 1 0 7.3 0a3.65 3.65 0 1 0 -7.3 0M310.9 187.5a3.65 3.65 0 1 0 7.3 0a3.65 3.65 0 1 0 -7.3 0M310.6 187.7a3.65 3.65 0 1 0 7.3 0a3.65 3.65 0 1 0 -7.3 0M307.4 189.6a3.65 3.65 0 1 0 7.3 0a3.65 3.65 0 1 0 -7.3 0M307.2 189.7a3.65 3.65 0 1 0 7.3 0a3.65 3.65 0 1 0 -7.3 0M306.9 189.8a3.65 3.65 0 1 0 7.3 0a3.65 3.65 0 1 0 -7.3 0M306.6 189.9a3.65 3.65 0 1 0 7.3 0a3.65 3.65 0 1 0 -7.3 0"/></defs>
<use href="#immp" x="0.0" y="0.0" fill="#A36E8D"/><use href="#immb" x="0.0" y="0.0" fill="#A36E8D"/>
<path d="M308.7 160.0a3.65 3.65 0 1 0 7.3 0a3.65 3.65 0 1 0 -7.3 0M115.8 142.5a3.65 3.65 0 1 0 7.3 0a3.65 3.65 0 1 0 -7.3 0M143.4 175.9a3.65 3.65 0 1 0 7.3 0a3.65 3.65 0 1 0 -7.3 0M144.5 177.8a3.65 3.65 0 1 0 7.3 0a3.65 3.65 0 1 0 -7.3 0M151.2 185.3a3.65 3.65 0 1 0 7.3 0a3.65 3.65 0 1 0 -7.3 0M183.8 202.6a3.65 3.65 0 1 0 7.3 0a3.65 3.65 0 1 0 -7.3 0M101.8 210.0a3.65 3.65 0 1 0 7.3 0a3.65 3.65 0 1 0 -7.3 0M103.0 211.2a3.65 3.65 0 1 0 7.3 0a3.65 3.65 0 1 0 -7.3 0M101.5 215.2a3.65 3.65 0 1 0 7.3 0a3.65 3.65 0 1 0 -7.3 0M101.9 213.0a3.65 3.65 0 1 0 7.3 0a3.65 3.65 0 1 0 -7.3 0M117.8 224.0a3.65 3.65 0 1 0 7.3 0a3.65 3.65 0 1 0 -7.3 0M121.5 228.1a3.65 3.65 0 1 0 7.3 0a3.65 3.65 0 1 0 -7.3 0M111.8 231.5a3.65 3.65 0 1 0 7.3 0a3.65 3.65 0 1 0 -7.3 0M116.4 235.3a3.65 3.65 0 1 0 7.3 0a3.65 3.65 0 1 0 -7.3 0M114.8 232.3a3.65 3.65 0 1 0 7.3 0a3.65 3.65 0 1 0 -7.3 0M118.1 231.5a3.65 3.65 0 1 0 7.3 0a3.65 3.65 0 1 0 -7.3 0M113.0 233.6a3.65 3.65 0 1 0 7.3 0a3.65 3.65 0 1 0 -7.3 0M119.3 229.5a3.65 3.65 0 1 0 7.3 0a3.65 3.65 0 1 0 -7.3 0M151.8 233.2a3.65 3.65 0 1 0 7.3 0a3.65 3.65 0 1 0 -7.3 0M150.8 236.9a3.65 3.65 0 1 0 7.3 0a3.65 3.65 0 1 0 -7.3 0M154.7 239.2a3.65 3.65 0 1 0 7.3 0a3.65 3.65 0 1 0 -7.3 0M156.9 234.6a3.65 3.65 0 1 0 7.3 0a3.65 3.65 0 1 0 -7.3 0M160.7 236.9a3.65 3.65 0 1 0 7.3 0a3.65 3.65 0 1 0 -7.3 0M158.3 238.3a3.65 3.65 0 1 0 7.3 0a3.65 3.65 0 1 0 -7.3 0M153.8 236.0a3.65 3.65 0 1 0 7.3 0a3.65 3.65 0 1 0 -7.3 0M170.7 223.4a3.65 3.65 0 1 0 7.3 0a3.65 3.65 0 1 0 -7.3 0M167.2 227.6a3.65 3.65 0 1 0 7.3 0a3.65 3.65 0 1 0 -7.3 0M174.2 228.5a3.65 3.65 0 1 0 7.3 0a3.65 3.65 0 1 0 -7.3 0M172.3 231.3a3.65 3.65 0 1 0 7.3 0a3.65 3.65 0 1 0 -7.3 0M176.5 233.6a3.65 3.65 0 1 0 7.3 0a3.65 3.65 0 1 0 -7.3 0M166.8 240.2a3.65 3.65 0 1 0 7.3 0a3.65 3.65 0 1 0 -7.3 0M170.9 240.6a3.65 3.65 0 1 0 7.3 0a3.65 3.65 0 1 0 -7.3 0M174.7 239.2a3.65 3.65 0 1 0 7.3 0a3.65 3.65 0 1 0 -7.3 0M181.7 240.2a3.65 3.65 0 1 0 7.3 0a3.65 3.65 0 1 0 -7.3 0M178.3 237.4a3.65 3.65 0 1 0 7.3 0a3.65 3.65 0 1 0 -7.3 0M170.4 236.4a3.65 3.65 0 1 0 7.3 0a3.65 3.65 0 1 0 -7.3 0M169.5 233.2a3.65 3.65 0 1 0 7.3 0a3.65 3.65 0 1 0 -7.3 0M168.3 237.0a3.65 3.65 0 1 0 7.3 0a3.65 3.65 0 1 0 -7.3 0M173.3 235.0a3.65 3.65 0 1 0 7.3 0a3.65 3.65 0 1 0 -7.3 0" fill="#A36E8D"/>
<path d="M130.8 97.0a3.65 3.65 0 1 0 7.3 0a3.65 3.65 0 1 0 -7.3 0M129.9 100.3a3.65 3.65 0 1 0 7.3 0a3.65 3.65 0 1 0 -7.3 0M131.2 102.9a3.65 3.65 0 1 0 7.3 0a3.65 3.65 0 1 0 -7.3 0M135.8 105.4a3.65 3.65 0 1 0 7.3 0a3.65 3.65 0 1 0 -7.3 0M133.3 104.0a3.65 3.65 0 1 0 7.3 0a3.65 3.65 0 1 0 -7.3 0M162.2 100.3a3.65 3.65 0 1 0 7.3 0a3.65 3.65 0 1 0 -7.3 0M162.9 98.6a3.65 3.65 0 1 0 7.3 0a3.65 3.65 0 1 0 -7.3 0M165.5 99.5a3.65 3.65 0 1 0 7.3 0a3.65 3.65 0 1 0 -7.3 0M168.4 99.9a3.65 3.65 0 1 0 7.3 0a3.65 3.65 0 1 0 -7.3 0" fill="#62966B"/>
<path d="M220.8 239.4a3.65 3.65 0 1 0 7.3 0a3.65 3.65 0 1 0 -7.3 0M216.8 271.3a3.65 3.65 0 1 0 7.3 0a3.65 3.65 0 1 0 -7.3 0M220.0 266.1a3.65 3.65 0 1 0 7.3 0a3.65 3.65 0 1 0 -7.3 0M223.7 266.9a3.65 3.65 0 1 0 7.3 0a3.65 3.65 0 1 0 -7.3 0M227.2 266.1a3.65 3.65 0 1 0 7.3 0a3.65 3.65 0 1 0 -7.3 0M226.4 264.9a3.65 3.65 0 1 0 7.3 0a3.65 3.65 0 1 0 -7.3 0M232.8 262.1a3.65 3.65 0 1 0 7.3 0a3.65 3.65 0 1 0 -7.3 0M232.8 266.9a3.65 3.65 0 1 0 7.3 0a3.65 3.65 0 1 0 -7.3 0M236.2 265.3a3.65 3.65 0 1 0 7.3 0a3.65 3.65 0 1 0 -7.3 0M238.5 266.9a3.65 3.65 0 1 0 7.3 0a3.65 3.65 0 1 0 -7.3 0M239.3 256.4a3.65 3.65 0 1 0 7.3 0a3.65 3.65 0 1 0 -7.3 0M241.3 260.1a3.65 3.65 0 1 0 7.3 0a3.65 3.65 0 1 0 -7.3 0M236.9 259.3a3.65 3.65 0 1 0 7.3 0a3.65 3.65 0 1 0 -7.3 0M234.5 260.5a3.65 3.65 0 1 0 7.3 0a3.65 3.65 0 1 0 -7.3 0M240.2 264.1a3.65 3.65 0 1 0 7.3 0a3.65 3.65 0 1 0 -7.3 0M231.2 260.9a3.65 3.65 0 1 0 7.3 0a3.65 3.65 0 1 0 -7.3 0M218.3 268.5a3.65 3.65 0 1 0 7.3 0a3.65 3.65 0 1 0 -7.3 0M229.8 265.5a3.65 3.65 0 1 0 7.3 0a3.65 3.65 0 1 0 -7.3 0" fill="#D53D25"/>
<path d="M197.9 192.2a3.65 3.65 0 1 0 7.3 0a3.65 3.65 0 1 0 -7.3 0M199.2 195.7a3.65 3.65 0 1 0 7.3 0a3.65 3.65 0 1 0 -7.3 0M199.8 198.7a3.65 3.65 0 1 0 7.3 0a3.65 3.65 0 1 0 -7.3 0M200.5 201.6a3.65 3.65 0 1 0 7.3 0a3.65 3.65 0 1 0 -7.3 0M200.9 203.3a3.65 3.65 0 1 0 7.3 0a3.65 3.65 0 1 0 -7.3 0M247.2 224.4a3.65 3.65 0 1 0 7.3 0a3.65 3.65 0 1 0 -7.3 0M249.2 225.6a3.65 3.65 0 1 0 7.3 0a3.65 3.65 0 1 0 -7.3 0M250.9 226.8a3.65 3.65 0 1 0 7.3 0a3.65 3.65 0 1 0 -7.3 0M253.0 227.9a3.65 3.65 0 1 0 7.3 0a3.65 3.65 0 1 0 -7.3 0M285.5 210.8a3.65 3.65 0 1 0 7.3 0a3.65 3.65 0 1 0 -7.3 0M288.1 209.4a3.65 3.65 0 1 0 7.3 0a3.65 3.65 0 1 0 -7.3 0M290.7 208.0a3.65 3.65 0 1 0 7.3 0a3.65 3.65 0 1 0 -7.3 0M293.2 206.6a3.65 3.65 0 1 0 7.3 0a3.65 3.65 0 1 0 -7.3 0M121.8 226.4a3.65 3.65 0 1 0 7.3 0a3.65 3.65 0 1 0 -7.3 0" fill="#F39500"/>
<text x="367.3" y="82.8" font-family="Liberation Sans, sans-serif" font-size="31">Cell Type</text>
<circle cx="381" cy="115.7" r="9.4" fill="#D53D25"/>
<text x="410" y="124.8" font-family="Liberation Sans, sans-serif" font-size="25">Endothelial</text>
<circle cx="381" cy="142.6" r="9.4" fill="#4478A6"/>
<text x="410" y="151.7" font-family="Liberation Sans, sans-serif" font-size="25">Epithelial</text>
<circle cx="381" cy="169.5" r="9.4" fill="#62966B"/>
<text x="410" y="178.6" font-family="Liberation Sans, sans-serif" font-size="25">Fibroblasts</text>
<circle cx="381" cy="196.4" r="9.4" fill="#A36E8D"/>
<text x="410" y="205.5" font-family="Liberation Sans, sans-serif" font-size="25">Immune</text>
<circle cx="381" cy="223.3" r="9.4" fill="#F39500"/>
<text x="410" y="232.4" font-family="Liberation Sans, sans-serif" font-size="25">Mitotic</text>
<use href="#epip" x="467.0" y="0.0" fill="#D4043C"/><use href="#epib" x="467.0" y="0.0" fill="#D4043C"/>
<ellipse cx="672.8" cy="74.9" rx="2.0" ry="1.5" fill="#fff"/>
<ellipse cx="668.4" cy="85.9" rx="1.4" ry="1.6" fill="#fff"/>
<path d="M704.8 97.9a3.65 3.65 0 1 0 7.3 0a3.65 3.65 0 1 0 -7.3 0M709.4 101.4a3.65 3.65 0 1 0 7.3 0a3.65 3.65 0 1 0 -7.3 0M711.1 106.8a3.65 3.65 0 1 0 7.3 0a3.65 3.65 0 1 0 -7.3 0M691.2 81.2a3.65 3.65 0 1 0 7.3 0a3.65 3.65 0 1 0 -7.3 0M698.4 104.5a3.65 3.65 0 1 0 7.3 0a3.65 3.65 0 1 0 -7.3 0M703.6 114.7a3.65 3.65 0 1 0 7.3 0a3.65 3.65 0 1 0 -7.3 0M709.6 115.5a3.65 3.65 0 1 0 7.3 0a3.65 3.65 0 1 0 -7.3 0M672.1 108.0a3.65 3.65 0 1 0 7.3 0a3.65 3.65 0 1 0 -7.3 0M668.1 115.0a3.65 3.65 0 1 0 7.3 0a3.65 3.65 0 1 0 -7.3 0M680.6 105.6a3.65 3.65 0 1 0 7.3 0a3.65 3.65 0 1 0 -7.3 0M682.0 111.8a3.65 3.65 0 1 0 7.3 0a3.65 3.65 0 1 0 -7.3 0M662.0 103.8a3.65 3.65 0 1 0 7.3 0a3.65 3.65 0 1 0 -7.3 0M647.2 103.0a3.65 3.65 0 1 0 7.3 0a3.65 3.65 0 1 0 -7.3 0M651.1 110.2a3.65 3.65 0 1 0 7.3 0a3.65 3.65 0 1 0 -7.3 0M702.9 124.3a3.65 3.65 0 1 0 7.3 0a3.65 3.65 0 1 0 -7.3 0M697.1 131.7a3.65 3.65 0 1 0 7.3 0a3.65 3.65 0 1 0 -7.3 0M689.8 145.8a3.65 3.65 0 1 0 7.3 0a3.65 3.65 0 1 0 -7.3 0" fill="#D4043C"/>
<use href="#immp" x="467.0" y="0.0" fill="#3B2A99"/><use href="#immb" x="467.0" y="0.0" fill="#3B2A99"/>
<path d="M775.6 160.0a3.65 3.65 0 1 0 7.3 0a3.65 3.65 0 1 0 -7.3 0M582.9 142.5a3.65 3.65 0 1 0 7.3 0a3.65 3.65 0 1 0 -7.3 0M610.5 175.9a3.65 3.65 0 1 0 7.3 0a3.65 3.65 0 1 0 -7.3 0M611.6 177.8a3.65 3.65 0 1 0 7.3 0a3.65 3.65 0 1 0 -7.3 0M618.2 185.3a3.65 3.65 0 1 0 7.3 0a3.65 3.65 0 1 0 -7.3 0M650.9 202.6a3.65 3.65 0 1 0 7.3 0a3.65 3.65 0 1 0 -7.3 0M568.8 210.0a3.65 3.65 0 1 0 7.3 0a3.65 3.65 0 1 0 -7.3 0M570.1 211.2a3.65 3.65 0 1 0 7.3 0a3.65 3.65 0 1 0 -7.3 0M568.6 215.2a3.65 3.65 0 1 0 7.3 0a3.65 3.65 0 1 0 -7.3 0M569.0 213.0a3.65 3.65 0 1 0 7.3 0a3.65 3.65 0 1 0 -7.3 0M584.8 224.0a3.65 3.65 0 1 0 7.3 0a3.65 3.65 0 1 0 -7.3 0M588.6 228.1a3.65 3.65 0 1 0 7.3 0a3.65 3.65 0 1 0 -7.3 0M578.8 231.5a3.65 3.65 0 1 0 7.3 0a3.65 3.65 0 1 0 -7.3 0M583.5 235.3a3.65 3.65 0 1 0 7.3 0a3.65 3.65 0 1 0 -7.3 0M581.8 232.3a3.65 3.65 0 1 0 7.3 0a3.65 3.65 0 1 0 -7.3 0M585.1 231.5a3.65 3.65 0 1 0 7.3 0a3.65 3.65 0 1 0 -7.3 0M580.1 233.6a3.65 3.65 0 1 0 7.3 0a3.65 3.65 0 1 0 -7.3 0M586.4 229.5a3.65 3.65 0 1 0 7.3 0a3.65 3.65 0 1 0 -7.3 0M618.9 233.2a3.65 3.65 0 1 0 7.3 0a3.65 3.65 0 1 0 -7.3 0M617.9 236.9a3.65 3.65 0 1 0 7.3 0a3.65 3.65 0 1 0 -7.3 0M621.6 239.2a3.65 3.65 0 1 0 7.3 0a3.65 3.65 0 1 0 -7.3 0M624.0 234.6a3.65 3.65 0 1 0 7.3 0a3.65 3.65 0 1 0 -7.3 0M627.6 236.9a3.65 3.65 0 1 0 7.3 0a3.65 3.65 0 1 0 -7.3 0M625.4 238.3a3.65 3.65 0 1 0 7.3 0a3.65 3.65 0 1 0 -7.3 0M620.9 236.0a3.65 3.65 0 1 0 7.3 0a3.65 3.65 0 1 0 -7.3 0M637.6 223.4a3.65 3.65 0 1 0 7.3 0a3.65 3.65 0 1 0 -7.3 0M634.1 227.6a3.65 3.65 0 1 0 7.3 0a3.65 3.65 0 1 0 -7.3 0M641.1 228.5a3.65 3.65 0 1 0 7.3 0a3.65 3.65 0 1 0 -7.3 0M639.4 231.3a3.65 3.65 0 1 0 7.3 0a3.65 3.65 0 1 0 -7.3 0M643.6 233.6a3.65 3.65 0 1 0 7.3 0a3.65 3.65 0 1 0 -7.3 0M633.8 240.2a3.65 3.65 0 1 0 7.3 0a3.65 3.65 0 1 0 -7.3 0M638.0 240.6a3.65 3.65 0 1 0 7.3 0a3.65 3.65 0 1 0 -7.3 0M641.6 239.2a3.65 3.65 0 1 0 7.3 0a3.65 3.65 0 1 0 -7.3 0M648.6 240.2a3.65 3.65 0 1 0 7.3 0a3.65 3.65 0 1 0 -7.3 0M645.4 237.4a3.65 3.65 0 1 0 7.3 0a3.65 3.65 0 1 0 -7.3 0M637.5 236.4a3.65 3.65 0 1 0 7.3 0a3.65 3.65 0 1 0 -7.3 0M636.6 233.2a3.65 3.65 0 1 0 7.3 0a3.65 3.65 0 1 0 -7.3 0M635.4 237.0a3.65 3.65 0 1 0 7.3 0a3.65 3.65 0 1 0 -7.3 0M640.4 235.0a3.65 3.65 0 1 0 7.3 0a3.65 3.65 0 1 0 -7.3 0" fill="#3B2A99"/>
<path d="M597.8 97.0a3.65 3.65 0 1 0 7.3 0a3.65 3.65 0 1 0 -7.3 0M597.0 100.3a3.65 3.65 0 1 0 7.3 0a3.65 3.65 0 1 0 -7.3 0M598.1 102.9a3.65 3.65 0 1 0 7.3 0a3.65 3.65 0 1 0 -7.3 0M602.9 105.4a3.65 3.65 0 1 0 7.3 0a3.65 3.65 0 1 0 -7.3 0M600.4 104.0a3.65 3.65 0 1 0 7.3 0a3.65 3.65 0 1 0 -7.3 0M629.1 100.3a3.65 3.65 0 1 0 7.3 0a3.65 3.65 0 1 0 -7.3 0M630.0 98.6a3.65 3.65 0 1 0 7.3 0a3.65 3.65 0 1 0 -7.3 0M632.6 99.5a3.65 3.65 0 1 0 7.3 0a3.65 3.65 0 1 0 -7.3 0M635.5 99.9a3.65 3.65 0 1 0 7.3 0a3.65 3.65 0 1 0 -7.3 0" fill="#3B2A99"/>
<path d="M687.8 239.4a3.65 3.65 0 1 0 7.3 0a3.65 3.65 0 1 0 -7.3 0M683.8 271.3a3.65 3.65 0 1 0 7.3 0a3.65 3.65 0 1 0 -7.3 0M687.1 266.1a3.65 3.65 0 1 0 7.3 0a3.65 3.65 0 1 0 -7.3 0M690.6 266.9a3.65 3.65 0 1 0 7.3 0a3.65 3.65 0 1 0 -7.3 0M694.2 266.1a3.65 3.65 0 1 0 7.3 0a3.65 3.65 0 1 0 -7.3 0M693.5 264.9a3.65 3.65 0 1 0 7.3 0a3.65 3.65 0 1 0 -7.3 0M699.9 262.1a3.65 3.65 0 1 0 7.3 0a3.65 3.65 0 1 0 -7.3 0M699.9 266.9a3.65 3.65 0 1 0 7.3 0a3.65 3.65 0 1 0 -7.3 0M703.1 265.3a3.65 3.65 0 1 0 7.3 0a3.65 3.65 0 1 0 -7.3 0M705.6 266.9a3.65 3.65 0 1 0 7.3 0a3.65 3.65 0 1 0 -7.3 0M706.4 256.4a3.65 3.65 0 1 0 7.3 0a3.65 3.65 0 1 0 -7.3 0M708.4 260.1a3.65 3.65 0 1 0 7.3 0a3.65 3.65 0 1 0 -7.3 0M704.0 259.3a3.65 3.65 0 1 0 7.3 0a3.65 3.65 0 1 0 -7.3 0M701.6 260.5a3.65 3.65 0 1 0 7.3 0a3.65 3.65 0 1 0 -7.3 0M707.1 264.1a3.65 3.65 0 1 0 7.3 0a3.65 3.65 0 1 0 -7.3 0M698.2 260.9a3.65 3.65 0 1 0 7.3 0a3.65 3.65 0 1 0 -7.3 0M685.4 268.5a3.65 3.65 0 1 0 7.3 0a3.65 3.65 0 1 0 -7.3 0M696.9 265.5a3.65 3.65 0 1 0 7.3 0a3.65 3.65 0 1 0 -7.3 0" fill="#3B2A99"/>
<path d="M665.0 192.2a3.65 3.65 0 1 0 7.3 0a3.65 3.65 0 1 0 -7.3 0M666.1 195.7a3.65 3.65 0 1 0 7.3 0a3.65 3.65 0 1 0 -7.3 0M666.8 198.7a3.65 3.65 0 1 0 7.3 0a3.65 3.65 0 1 0 -7.3 0M667.6 201.6a3.65 3.65 0 1 0 7.3 0a3.65 3.65 0 1 0 -7.3 0M668.0 203.3a3.65 3.65 0 1 0 7.3 0a3.65 3.65 0 1 0 -7.3 0M714.1 224.4a3.65 3.65 0 1 0 7.3 0a3.65 3.65 0 1 0 -7.3 0M716.1 225.6a3.65 3.65 0 1 0 7.3 0a3.65 3.65 0 1 0 -7.3 0M718.0 226.8a3.65 3.65 0 1 0 7.3 0a3.65 3.65 0 1 0 -7.3 0M720.0 227.9a3.65 3.65 0 1 0 7.3 0a3.65 3.65 0 1 0 -7.3 0M752.5 210.8a3.65 3.65 0 1 0 7.3 0a3.65 3.65 0 1 0 -7.3 0M755.1 209.4a3.65 3.65 0 1 0 7.3 0a3.65 3.65 0 1 0 -7.3 0M757.6 208.0a3.65 3.65 0 1 0 7.3 0a3.65 3.65 0 1 0 -7.3 0M760.1 206.6a3.65 3.65 0 1 0 7.3 0a3.65 3.65 0 1 0 -7.3 0M588.8 226.4a3.65 3.65 0 1 0 7.3 0a3.65 3.65 0 1 0 -7.3 0" fill="#3B2A99"/>
<path d="M692.0 27.2a3.65 3.65 0 1 0 7.3 0a3.65 3.65 0 1 0 -7.3 0M687.6 38.0a3.65 3.65 0 1 0 7.3 0a3.65 3.65 0 1 0 -7.3 0M689.4 33.0a3.65 3.65 0 1 0 7.3 0a3.65 3.65 0 1 0 -7.3 0M684.4 44.0a3.65 3.65 0 1 0 7.3 0a3.65 3.65 0 1 0 -7.3 0" fill="#C6044E"/>
<path d="M672.2 41.2a3.65 3.65 0 1 0 7.3 0a3.65 3.65 0 1 0 -7.3 0M687.6 47.3a3.65 3.65 0 1 0 7.3 0a3.65 3.65 0 1 0 -7.3 0M688.1 50.5a3.65 3.65 0 1 0 7.3 0a3.65 3.65 0 1 0 -7.3 0M679.4 55.2a3.65 3.65 0 1 0 7.3 0a3.65 3.65 0 1 0 -7.3 0M668.1 62.0a3.65 3.65 0 1 0 7.3 0a3.65 3.65 0 1 0 -7.3 0M656.6 63.0a3.65 3.65 0 1 0 7.3 0a3.65 3.65 0 1 0 -7.3 0M648.4 68.7a3.65 3.65 0 1 0 7.3 0a3.65 3.65 0 1 0 -7.3 0M651.4 69.0a3.65 3.65 0 1 0 7.3 0a3.65 3.65 0 1 0 -7.3 0M654.1 71.2a3.65 3.65 0 1 0 7.3 0a3.65 3.65 0 1 0 -7.3 0M662.4 71.9a3.65 3.65 0 1 0 7.3 0a3.65 3.65 0 1 0 -7.3 0M659.4 71.0a3.65 3.65 0 1 0 7.3 0a3.65 3.65 0 1 0 -7.3 0M665.9 78.5a3.65 3.65 0 1 0 7.3 0a3.65 3.65 0 1 0 -7.3 0M669.9 78.5a3.65 3.65 0 1 0 7.3 0a3.65 3.65 0 1 0 -7.3 0M666.4 82.5a3.65 3.65 0 1 0 7.3 0a3.65 3.65 0 1 0 -7.3 0M670.9 83.0a3.65 3.65 0 1 0 7.3 0a3.65 3.65 0 1 0 -7.3 0M668.1 80.8a3.65 3.65 0 1 0 7.3 0a3.65 3.65 0 1 0 -7.3 0M679.0 81.5a3.65 3.65 0 1 0 7.3 0a3.65 3.65 0 1 0 -7.3 0M679.6 94.2a3.65 3.65 0 1 0 7.3 0a3.65 3.65 0 1 0 -7.3 0M679.1 97.5a3.65 3.65 0 1 0 7.3 0a3.65 3.65 0 1 0 -7.3 0M677.1 88.5a3.65 3.65 0 1 0 7.3 0a3.65 3.65 0 1 0 -7.3 0M700.6 89.7a3.65 3.65 0 1 0 7.3 0a3.65 3.65 0 1 0 -7.3 0M690.1 63.2a3.65 3.65 0 1 0 7.3 0a3.65 3.65 0 1 0 -7.3 0M647.8 78.3a3.65 3.65 0 1 0 7.3 0a3.65 3.65 0 1 0 -7.3 0M690.8 70.0a3.65 3.65 0 1 0 7.3 0a3.65 3.65 0 1 0 -7.3 0" fill="#3B2A99"/>
<path d="M677.1 60.4a3.65 3.65 0 1 0 7.3 0a3.65 3.65 0 1 0 -7.3 0M682.9 63.0a3.65 3.65 0 1 0 7.3 0a3.65 3.65 0 1 0 -7.3 0M654.1 85.9a3.65 3.65 0 1 0 7.3 0a3.65 3.65 0 1 0 -7.3 0M671.4 88.5a3.65 3.65 0 1 0 7.3 0a3.65 3.65 0 1 0 -7.3 0M689.9 89.7a3.65 3.65 0 1 0 7.3 0a3.65 3.65 0 1 0 -7.3 0M685.4 92.0a3.65 3.65 0 1 0 7.3 0a3.65 3.65 0 1 0 -7.3 0" fill="#DC2234"/>
<path d="M651.1 110.2a3.65 3.65 0 1 0 7.3 0a3.65 3.65 0 1 0 -7.3 0M668.1 115.0a3.65 3.65 0 1 0 7.3 0a3.65 3.65 0 1 0 -7.3 0M702.9 124.3a3.65 3.65 0 1 0 7.3 0a3.65 3.65 0 1 0 -7.3 0M709.4 101.4a3.65 3.65 0 1 0 7.3 0a3.65 3.65 0 1 0 -7.3 0" fill="#3B2A99"/>
<path d="M629.1 100.3a3.65 3.65 0 1 0 7.3 0a3.65 3.65 0 1 0 -7.3 0M630.0 98.6a3.65 3.65 0 1 0 7.3 0a3.65 3.65 0 1 0 -7.3 0M632.6 99.5a3.65 3.65 0 1 0 7.3 0a3.65 3.65 0 1 0 -7.3 0M582.9 142.5a3.65 3.65 0 1 0 7.3 0a3.65 3.65 0 1 0 -7.3 0M775.6 160.0a3.65 3.65 0 1 0 7.3 0a3.65 3.65 0 1 0 -7.3 0M650.9 202.6a3.65 3.65 0 1 0 7.3 0a3.65 3.65 0 1 0 -7.3 0M791.9 178.3a3.65 3.65 0 1 0 7.3 0a3.65 3.65 0 1 0 -7.3 0M782.8 212.6a3.65 3.65 0 1 0 7.3 0a3.65 3.65 0 1 0 -7.3 0M637.2 227.7a3.65 3.65 0 1 0 7.3 0a3.65 3.65 0 1 0 -7.3 0M666.8 198.7a3.65 3.65 0 1 0 7.3 0a3.65 3.65 0 1 0 -7.3 0M667.6 201.6a3.65 3.65 0 1 0 7.3 0a3.65 3.65 0 1 0 -7.3 0M668.0 203.3a3.65 3.65 0 1 0 7.3 0a3.65 3.65 0 1 0 -7.3 0" fill="#D4043C"/>
<use href="#epip" x="0.0" y="296.8" fill="#DC1C28"/><use href="#epib" x="0.0" y="296.8" fill="#DC1C28"/>
<ellipse cx="205.8" cy="371.7" rx="2.0" ry="1.5" fill="#fff"/>
<ellipse cx="201.4" cy="382.7" rx="1.4" ry="1.6" fill="#fff"/>
<path d="M237.8 394.7a3.65 3.65 0 1 0 7.3 0a3.65 3.65 0 1 0 -7.3 0M242.3 398.2a3.65 3.65 0 1 0 7.3 0a3.65 3.65 0 1 0 -7.3 0M244.0 403.6a3.65 3.65 0 1 0 7.3 0a3.65 3.65 0 1 0 -7.3 0M224.2 378.0a3.65 3.65 0 1 0 7.3 0a3.65 3.65 0 1 0 -7.3 0M231.3 401.3a3.65 3.65 0 1 0 7.3 0a3.65 3.65 0 1 0 -7.3 0M236.5 411.5a3.65 3.65 0 1 0 7.3 0a3.65 3.65 0 1 0 -7.3 0M242.7 412.3a3.65 3.65 0 1 0 7.3 0a3.65 3.65 0 1 0 -7.3 0M205.0 404.8a3.65 3.65 0 1 0 7.3 0a3.65 3.65 0 1 0 -7.3 0M201.0 411.8a3.65 3.65 0 1 0 7.3 0a3.65 3.65 0 1 0 -7.3 0M213.5 402.4a3.65 3.65 0 1 0 7.3 0a3.65 3.65 0 1 0 -7.3 0M214.9 408.6a3.65 3.65 0 1 0 7.3 0a3.65 3.65 0 1 0 -7.3 0M194.9 400.6a3.65 3.65 0 1 0 7.3 0a3.65 3.65 0 1 0 -7.3 0M180.2 399.8a3.65 3.65 0 1 0 7.3 0a3.65 3.65 0 1 0 -7.3 0M184.0 407.0a3.65 3.65 0 1 0 7.3 0a3.65 3.65 0 1 0 -7.3 0M235.8 421.1a3.65 3.65 0 1 0 7.3 0a3.65 3.65 0 1 0 -7.3 0M230.2 428.5a3.65 3.65 0 1 0 7.3 0a3.65 3.65 0 1 0 -7.3 0M222.8 442.6a3.65 3.65 0 1 0 7.3 0a3.65 3.65 0 1 0 -7.3 0" fill="#DC1C28"/>
<use href="#immp" x="0.0" y="296.8" fill="#3B2A99"/><use href="#immb" x="0.0" y="296.8" fill="#3B2A99"/>
<path d="M308.7 456.8a3.65 3.65 0 1 0 7.3 0a3.65 3.65 0 1 0 -7.3 0M115.8 439.3a3.65 3.65 0 1 0 7.3 0a3.65 3.65 0 1 0 -7.3 0M143.4 472.7a3.65 3.65 0 1 0 7.3 0a3.65 3.65 0 1 0 -7.3 0M144.5 474.6a3.65 3.65 0 1 0 7.3 0a3.65 3.65 0 1 0 -7.3 0M151.2 482.1a3.65 3.65 0 1 0 7.3 0a3.65 3.65 0 1 0 -7.3 0M183.8 499.4a3.65 3.65 0 1 0 7.3 0a3.65 3.65 0 1 0 -7.3 0M101.8 506.8a3.65 3.65 0 1 0 7.3 0a3.65 3.65 0 1 0 -7.3 0M103.0 508.0a3.65 3.65 0 1 0 7.3 0a3.65 3.65 0 1 0 -7.3 0M101.5 512.0a3.65 3.65 0 1 0 7.3 0a3.65 3.65 0 1 0 -7.3 0M101.9 509.8a3.65 3.65 0 1 0 7.3 0a3.65 3.65 0 1 0 -7.3 0M117.8 520.8a3.65 3.65 0 1 0 7.3 0a3.65 3.65 0 1 0 -7.3 0M121.5 524.9a3.65 3.65 0 1 0 7.3 0a3.65 3.65 0 1 0 -7.3 0M111.8 528.3a3.65 3.65 0 1 0 7.3 0a3.65 3.65 0 1 0 -7.3 0M116.4 532.1a3.65 3.65 0 1 0 7.3 0a3.65 3.65 0 1 0 -7.3 0M114.8 529.1a3.65 3.65 0 1 0 7.3 0a3.65 3.65 0 1 0 -7.3 0M118.1 528.3a3.65 3.65 0 1 0 7.3 0a3.65 3.65 0 1 0 -7.3 0M113.0 530.4a3.65 3.65 0 1 0 7.3 0a3.65 3.65 0 1 0 -7.3 0M119.3 526.3a3.65 3.65 0 1 0 7.3 0a3.65 3.65 0 1 0 -7.3 0M151.8 530.0a3.65 3.65 0 1 0 7.3 0a3.65 3.65 0 1 0 -7.3 0M150.8 533.7a3.65 3.65 0 1 0 7.3 0a3.65 3.65 0 1 0 -7.3 0M154.7 536.0a3.65 3.65 0 1 0 7.3 0a3.65 3.65 0 1 0 -7.3 0M156.9 531.4a3.65 3.65 0 1 0 7.3 0a3.65 3.65 0 1 0 -7.3 0M160.7 533.7a3.65 3.65 0 1 0 7.3 0a3.65 3.65 0 1 0 -7.3 0M158.3 535.1a3.65 3.65 0 1 0 7.3 0a3.65 3.65 0 1 0 -7.3 0M153.8 532.8a3.65 3.65 0 1 0 7.3 0a3.65 3.65 0 1 0 -7.3 0M170.7 520.2a3.65 3.65 0 1 0 7.3 0a3.65 3.65 0 1 0 -7.3 0M167.2 524.4a3.65 3.65 0 1 0 7.3 0a3.65 3.65 0 1 0 -7.3 0M174.2 525.3a3.65 3.65 0 1 0 7.3 0a3.65 3.65 0 1 0 -7.3 0M172.3 528.1a3.65 3.65 0 1 0 7.3 0a3.65 3.65 0 1 0 -7.3 0M176.5 530.4a3.65 3.65 0 1 0 7.3 0a3.65 3.65 0 1 0 -7.3 0M166.8 537.0a3.65 3.65 0 1 0 7.3 0a3.65 3.65 0 1 0 -7.3 0M170.9 537.4a3.65 3.65 0 1 0 7.3 0a3.65 3.65 0 1 0 -7.3 0M174.7 536.0a3.65 3.65 0 1 0 7.3 0a3.65 3.65 0 1 0 -7.3 0M181.7 537.0a3.65 3.65 0 1 0 7.3 0a3.65 3.65 0 1 0 -7.3 0M178.3 534.2a3.65 3.65 0 1 0 7.3 0a3.65 3.65 0 1 0 -7.3 0M170.4 533.2a3.65 3.65 0 1 0 7.3 0a3.65 3.65 0 1 0 -7.3 0M169.5 530.0a3.65 3.65 0 1 0 7.3 0a3.65 3.65 0 1 0 -7.3 0M168.3 533.8a3.65 3.65 0 1 0 7.3 0a3.65 3.65 0 1 0 -7.3 0M173.3 531.8a3.65 3.65 0 1 0 7.3 0a3.65 3.65 0 1 0 -7.3 0" fill="#3B2A99"/>
<path d="M130.8 393.8a3.65 3.65 0 1 0 7.3 0a3.65 3.65 0 1 0 -7.3 0M129.9 397.1a3.65 3.65 0 1 0 7.3 0a3.65 3.65 0 1 0 -7.3 0M131.2 399.7a3.65 3.65 0 1 0 7.3 0a3.65 3.65 0 1 0 -7.3 0M135.8 402.2a3.65 3.65 0 1 0 7.3 0a3.65 3.65 0 1 0 -7.3 0M133.3 400.8a3.65 3.65 0 1 0 7.3 0a3.65 3.65 0 1 0 -7.3 0M162.2 397.1a3.65 3.65 0 1 0 7.3 0a3.65 3.65 0 1 0 -7.3 0M162.9 395.4a3.65 3.65 0 1 0 7.3 0a3.65 3.65 0 1 0 -7.3 0M165.5 396.3a3.65 3.65 0 1 0 7.3 0a3.65 3.65 0 1 0 -7.3 0M168.4 396.7a3.65 3.65 0 1 0 7.3 0a3.65 3.65 0 1 0 -7.3 0" fill="#D4043C"/>
<path d="M220.8 536.2a3.65 3.65 0 1 0 7.3 0a3.65 3.65 0 1 0 -7.3 0M216.8 568.1a3.65 3.65 0 1 0 7.3 0a3.65 3.65 0 1 0 -7.3 0M220.0 562.9a3.65 3.65 0 1 0 7.3 0a3.65 3.65 0 1 0 -7.3 0M223.7 563.7a3.65 3.65 0 1 0 7.3 0a3.65 3.65 0 1 0 -7.3 0M227.2 562.9a3.65 3.65 0 1 0 7.3 0a3.65 3.65 0 1 0 -7.3 0M226.4 561.7a3.65 3.65 0 1 0 7.3 0a3.65 3.65 0 1 0 -7.3 0M232.8 558.9a3.65 3.65 0 1 0 7.3 0a3.65 3.65 0 1 0 -7.3 0M232.8 563.7a3.65 3.65 0 1 0 7.3 0a3.65 3.65 0 1 0 -7.3 0M236.2 562.1a3.65 3.65 0 1 0 7.3 0a3.65 3.65 0 1 0 -7.3 0M238.5 563.7a3.65 3.65 0 1 0 7.3 0a3.65 3.65 0 1 0 -7.3 0M239.3 553.2a3.65 3.65 0 1 0 7.3 0a3.65 3.65 0 1 0 -7.3 0M241.3 556.9a3.65 3.65 0 1 0 7.3 0a3.65 3.65 0 1 0 -7.3 0M236.9 556.1a3.65 3.65 0 1 0 7.3 0a3.65 3.65 0 1 0 -7.3 0M234.5 557.3a3.65 3.65 0 1 0 7.3 0a3.65 3.65 0 1 0 -7.3 0M240.2 560.9a3.65 3.65 0 1 0 7.3 0a3.65 3.65 0 1 0 -7.3 0M231.2 557.7a3.65 3.65 0 1 0 7.3 0a3.65 3.65 0 1 0 -7.3 0M218.3 565.3a3.65 3.65 0 1 0 7.3 0a3.65 3.65 0 1 0 -7.3 0M229.8 562.3a3.65 3.65 0 1 0 7.3 0a3.65 3.65 0 1 0 -7.3 0" fill="#3B2A99"/>
<path d="M197.9 489.0a3.65 3.65 0 1 0 7.3 0a3.65 3.65 0 1 0 -7.3 0M199.2 492.5a3.65 3.65 0 1 0 7.3 0a3.65 3.65 0 1 0 -7.3 0M199.8 495.5a3.65 3.65 0 1 0 7.3 0a3.65 3.65 0 1 0 -7.3 0M200.5 498.4a3.65 3.65 0 1 0 7.3 0a3.65 3.65 0 1 0 -7.3 0M200.9 500.1a3.65 3.65 0 1 0 7.3 0a3.65 3.65 0 1 0 -7.3 0M247.2 521.2a3.65 3.65 0 1 0 7.3 0a3.65 3.65 0 1 0 -7.3 0M249.2 522.4a3.65 3.65 0 1 0 7.3 0a3.65 3.65 0 1 0 -7.3 0M250.9 523.6a3.65 3.65 0 1 0 7.3 0a3.65 3.65 0 1 0 -7.3 0M253.0 524.7a3.65 3.65 0 1 0 7.3 0a3.65 3.65 0 1 0 -7.3 0M285.5 507.6a3.65 3.65 0 1 0 7.3 0a3.65 3.65 0 1 0 -7.3 0M288.1 506.2a3.65 3.65 0 1 0 7.3 0a3.65 3.65 0 1 0 -7.3 0M290.7 504.8a3.65 3.65 0 1 0 7.3 0a3.65 3.65 0 1 0 -7.3 0M293.2 503.4a3.65 3.65 0 1 0 7.3 0a3.65 3.65 0 1 0 -7.3 0M121.8 523.2a3.65 3.65 0 1 0 7.3 0a3.65 3.65 0 1 0 -7.3 0" fill="#D4043C"/>
<path d="M196.3 356.8a3.65 3.65 0 1 0 7.3 0a3.65 3.65 0 1 0 -7.3 0M211.3 346.8a3.65 3.65 0 1 0 7.3 0a3.65 3.65 0 1 0 -7.3 0M186.3 371.8a3.65 3.65 0 1 0 7.3 0a3.65 3.65 0 1 0 -7.3 0M221.3 381.8a3.65 3.65 0 1 0 7.3 0a3.65 3.65 0 1 0 -7.3 0M204.3 366.8a3.65 3.65 0 1 0 7.3 0a3.65 3.65 0 1 0 -7.3 0M217.3 332.8a3.65 3.65 0 1 0 7.3 0a3.65 3.65 0 1 0 -7.3 0" fill="#D8162E"/>
<path d="M208.3 358.8a3.65 3.65 0 1 0 7.3 0a3.65 3.65 0 1 0 -7.3 0M218.3 352.8a3.65 3.65 0 1 0 7.3 0a3.65 3.65 0 1 0 -7.3 0M226.3 386.8a3.65 3.65 0 1 0 7.3 0a3.65 3.65 0 1 0 -7.3 0M192.3 384.8a3.65 3.65 0 1 0 7.3 0a3.65 3.65 0 1 0 -7.3 0" fill="#E02C22"/>
<path d="M199.8 376.8a3.65 3.65 0 1 0 7.3 0a3.65 3.65 0 1 0 -7.3 0M197.8 380.8a3.65 3.65 0 1 0 7.3 0a3.65 3.65 0 1 0 -7.3 0" fill="#CE0C42"/>
<path d="M194.9 400.6a3.65 3.65 0 1 0 7.3 0a3.65 3.65 0 1 0 -7.3 0" fill="#C20C56"/>
<path d="M130.8 393.8a3.65 3.65 0 1 0 7.3 0a3.65 3.65 0 1 0 -7.3 0M135.8 402.2a3.65 3.65 0 1 0 7.3 0a3.65 3.65 0 1 0 -7.3 0M168.4 396.7a3.65 3.65 0 1 0 7.3 0a3.65 3.65 0 1 0 -7.3 0" fill="#3B2A99"/>
<path d="M308.5 456.8a3.65 3.65 0 1 0 7.3 0a3.65 3.65 0 1 0 -7.3 0M316.0 467.8a3.65 3.65 0 1 0 7.3 0a3.65 3.65 0 1 0 -7.3 0M318.9 474.6a3.65 3.65 0 1 0 7.3 0a3.65 3.65 0 1 0 -7.3 0M323.2 474.6a3.65 3.65 0 1 0 7.3 0a3.65 3.65 0 1 0 -7.3 0M320.6 478.8a3.65 3.65 0 1 0 7.3 0a3.65 3.65 0 1 0 -7.3 0M301.1 487.3a3.65 3.65 0 1 0 7.3 0a3.65 3.65 0 1 0 -7.3 0M306.2 487.3a3.65 3.65 0 1 0 7.3 0a3.65 3.65 0 1 0 -7.3 0M312.2 487.3a3.65 3.65 0 1 0 7.3 0a3.65 3.65 0 1 0 -7.3 0M318.9 486.4a3.65 3.65 0 1 0 7.3 0a3.65 3.65 0 1 0 -7.3 0M324.0 489.8a3.65 3.65 0 1 0 7.3 0a3.65 3.65 0 1 0 -7.3 0M322.2 493.2a3.65 3.65 0 1 0 7.3 0a3.65 3.65 0 1 0 -7.3 0M303.7 495.8a3.65 3.65 0 1 0 7.3 0a3.65 3.65 0 1 0 -7.3 0M316.8 500.8a3.65 3.65 0 1 0 7.3 0a3.65 3.65 0 1 0 -7.3 0M315.6 509.3a3.65 3.65 0 1 0 7.3 0a3.65 3.65 0 1 0 -7.3 0M323.2 505.9a3.65 3.65 0 1 0 7.3 0a3.65 3.65 0 1 0 -7.3 0" fill="#D4043C"/>
<path d="M115.8 439.3a3.65 3.65 0 1 0 7.3 0a3.65 3.65 0 1 0 -7.3 0M183.8 499.4a3.65 3.65 0 1 0 7.3 0a3.65 3.65 0 1 0 -7.3 0" fill="#DC2234"/>
<path d="M103.0 508.0a3.65 3.65 0 1 0 7.3 0a3.65 3.65 0 1 0 -7.3 0M101.5 512.0a3.65 3.65 0 1 0 7.3 0a3.65 3.65 0 1 0 -7.3 0M101.9 509.8a3.65 3.65 0 1 0 7.3 0a3.65 3.65 0 1 0 -7.3 0M111.8 528.3a3.65 3.65 0 1 0 7.3 0a3.65 3.65 0 1 0 -7.3 0M114.8 529.1a3.65 3.65 0 1 0 7.3 0a3.65 3.65 0 1 0 -7.3 0M118.1 528.3a3.65 3.65 0 1 0 7.3 0a3.65 3.65 0 1 0 -7.3 0M113.0 530.4a3.65 3.65 0 1 0 7.3 0a3.65 3.65 0 1 0 -7.3 0M151.8 530.0a3.65 3.65 0 1 0 7.3 0a3.65 3.65 0 1 0 -7.3 0M150.8 533.7a3.65 3.65 0 1 0 7.3 0a3.65 3.65 0 1 0 -7.3 0M154.7 536.0a3.65 3.65 0 1 0 7.3 0a3.65 3.65 0 1 0 -7.3 0M156.9 531.4a3.65 3.65 0 1 0 7.3 0a3.65 3.65 0 1 0 -7.3 0M160.7 533.7a3.65 3.65 0 1 0 7.3 0a3.65 3.65 0 1 0 -7.3 0M158.3 535.1a3.65 3.65 0 1 0 7.3 0a3.65 3.65 0 1 0 -7.3 0M153.8 532.8a3.65 3.65 0 1 0 7.3 0a3.65 3.65 0 1 0 -7.3 0M170.3 523.8a3.65 3.65 0 1 0 7.3 0a3.65 3.65 0 1 0 -7.3 0M174.2 525.3a3.65 3.65 0 1 0 7.3 0a3.65 3.65 0 1 0 -7.3 0M181.7 537.0a3.65 3.65 0 1 0 7.3 0a3.65 3.65 0 1 0 -7.3 0M174.9 532.4a3.65 3.65 0 1 0 7.3 0a3.65 3.65 0 1 0 -7.3 0" fill="#D4043C"/>
<path d="M247.2 521.2a3.65 3.65 0 1 0 7.3 0a3.65 3.65 0 1 0 -7.3 0M249.2 522.4a3.65 3.65 0 1 0 7.3 0a3.65 3.65 0 1 0 -7.3 0M285.5 507.6a3.65 3.65 0 1 0 7.3 0a3.65 3.65 0 1 0 -7.3 0M293.2 503.4a3.65 3.65 0 1 0 7.3 0a3.65 3.65 0 1 0 -7.3 0M121.8 523.2a3.65 3.65 0 1 0 7.3 0a3.65 3.65 0 1 0 -7.3 0" fill="#3B2A99"/>
<path d="M216.5 568.4a3.65 3.65 0 1 0 7.3 0a3.65 3.65 0 1 0 -7.3 0" fill="#DC2234"/>
<path d="M236.7 558.3a3.65 3.65 0 1 0 7.3 0a3.65 3.65 0 1 0 -7.3 0M238.3 562.8a3.65 3.65 0 1 0 7.3 0a3.65 3.65 0 1 0 -7.3 0" fill="#D4043C"/>
<path d="M239.9 552.8a3.65 3.65 0 1 0 7.3 0a3.65 3.65 0 1 0 -7.3 0" fill="#3B2A99"/>
<use href="#epip" x="467.0" y="296.8" fill="#DC1C28"/><use href="#epib" x="467.0" y="296.8" fill="#DC1C28"/>
<ellipse cx="672.8" cy="371.7" rx="2.0" ry="1.5" fill="#fff"/>
<ellipse cx="668.4" cy="382.7" rx="1.4" ry="1.6" fill="#fff"/>
<path d="M704.8 394.7a3.65 3.65 0 1 0 7.3 0a3.65 3.65 0 1 0 -7.3 0M709.4 398.2a3.65 3.65 0 1 0 7.3 0a3.65 3.65 0 1 0 -7.3 0M711.1 403.6a3.65 3.65 0 1 0 7.3 0a3.65 3.65 0 1 0 -7.3 0M691.2 378.0a3.65 3.65 0 1 0 7.3 0a3.65 3.65 0 1 0 -7.3 0M698.4 401.3a3.65 3.65 0 1 0 7.3 0a3.65 3.65 0 1 0 -7.3 0M703.6 411.5a3.65 3.65 0 1 0 7.3 0a3.65 3.65 0 1 0 -7.3 0M709.6 412.3a3.65 3.65 0 1 0 7.3 0a3.65 3.65 0 1 0 -7.3 0M672.1 404.8a3.65 3.65 0 1 0 7.3 0a3.65 3.65 0 1 0 -7.3 0M668.1 411.8a3.65 3.65 0 1 0 7.3 0a3.65 3.65 0 1 0 -7.3 0M680.6 402.4a3.65 3.65 0 1 0 7.3 0a3.65 3.65 0 1 0 -7.3 0M682.0 408.6a3.65 3.65 0 1 0 7.3 0a3.65 3.65 0 1 0 -7.3 0M662.0 400.6a3.65 3.65 0 1 0 7.3 0a3.65 3.65 0 1 0 -7.3 0M647.2 399.8a3.65 3.65 0 1 0 7.3 0a3.65 3.65 0 1 0 -7.3 0M651.1 407.0a3.65 3.65 0 1 0 7.3 0a3.65 3.65 0 1 0 -7.3 0M702.9 421.1a3.65 3.65 0 1 0 7.3 0a3.65 3.65 0 1 0 -7.3 0M697.1 428.5a3.65 3.65 0 1 0 7.3 0a3.65 3.65 0 1 0 -7.3 0M689.8 442.6a3.65 3.65 0 1 0 7.3 0a3.65 3.65 0 1 0 -7.3 0" fill="#DC1C28"/>
<use href="#immp" x="467.0" y="296.8" fill="#3B2A99"/><use href="#immb" x="467.0" y="296.8" fill="#3B2A99"/>
<path d="M775.6 456.8a3.65 3.65 0 1 0 7.3 0a3.65 3.65 0 1 0 -7.3 0M582.9 439.3a3.65 3.65 0 1 0 7.3 0a3.65 3.65 0 1 0 -7.3 0M610.5 472.7a3.65 3.65 0 1 0 7.3 0a3.65 3.65 0 1 0 -7.3 0M611.6 474.6a3.65 3.65 0 1 0 7.3 0a3.65 3.65 0 1 0 -7.3 0M618.2 482.1a3.65 3.65 0 1 0 7.3 0a3.65 3.65 0 1 0 -7.3 0M650.9 499.4a3.65 3.65 0 1 0 7.3 0a3.65 3.65 0 1 0 -7.3 0M568.8 506.8a3.65 3.65 0 1 0 7.3 0a3.65 3.65 0 1 0 -7.3 0M570.1 508.0a3.65 3.65 0 1 0 7.3 0a3.65 3.65 0 1 0 -7.3 0M568.6 512.0a3.65 3.65 0 1 0 7.3 0a3.65 3.65 0 1 0 -7.3 0M569.0 509.8a3.65 3.65 0 1 0 7.3 0a3.65 3.65 0 1 0 -7.3 0M584.8 520.8a3.65 3.65 0 1 0 7.3 0a3.65 3.65 0 1 0 -7.3 0M588.6 524.9a3.65 3.65 0 1 0 7.3 0a3.65 3.65 0 1 0 -7.3 0M578.8 528.3a3.65 3.65 0 1 0 7.3 0a3.65 3.65 0 1 0 -7.3 0M583.5 532.1a3.65 3.65 0 1 0 7.3 0a3.65 3.65 0 1 0 -7.3 0M581.8 529.1a3.65 3.65 0 1 0 7.3 0a3.65 3.65 0 1 0 -7.3 0M585.1 528.3a3.65 3.65 0 1 0 7.3 0a3.65 3.65 0 1 0 -7.3 0M580.1 530.4a3.65 3.65 0 1 0 7.3 0a3.65 3.65 0 1 0 -7.3 0M586.4 526.3a3.65 3.65 0 1 0 7.3 0a3.65 3.65 0 1 0 -7.3 0M618.9 530.0a3.65 3.65 0 1 0 7.3 0a3.65 3.65 0 1 0 -7.3 0M617.9 533.7a3.65 3.65 0 1 0 7.3 0a3.65 3.65 0 1 0 -7.3 0M621.6 536.0a3.65 3.65 0 1 0 7.3 0a3.65 3.65 0 1 0 -7.3 0M624.0 531.4a3.65 3.65 0 1 0 7.3 0a3.65 3.65 0 1 0 -7.3 0M627.6 533.7a3.65 3.65 0 1 0 7.3 0a3.65 3.65 0 1 0 -7.3 0M625.4 535.1a3.65 3.65 0 1 0 7.3 0a3.65 3.65 0 1 0 -7.3 0M620.9 532.8a3.65 3.65 0 1 0 7.3 0a3.65 3.65 0 1 0 -7.3 0M637.6 520.2a3.65 3.65 0 1 0 7.3 0a3.65 3.65 0 1 0 -7.3 0M634.1 524.4a3.65 3.65 0 1 0 7.3 0a3.65 3.65 0 1 0 -7.3 0M641.1 525.3a3.65 3.65 0 1 0 7.3 0a3.65 3.65 0 1 0 -7.3 0M639.4 528.1a3.65 3.65 0 1 0 7.3 0a3.65 3.65 0 1 0 -7.3 0M643.6 530.4a3.65 3.65 0 1 0 7.3 0a3.65 3.65 0 1 0 -7.3 0M633.8 537.0a3.65 3.65 0 1 0 7.3 0a3.65 3.65 0 1 0 -7.3 0M638.0 537.4a3.65 3.65 0 1 0 7.3 0a3.65 3.65 0 1 0 -7.3 0M641.6 536.0a3.65 3.65 0 1 0 7.3 0a3.65 3.65 0 1 0 -7.3 0M648.6 537.0a3.65 3.65 0 1 0 7.3 0a3.65 3.65 0 1 0 -7.3 0M645.4 534.2a3.65 3.65 0 1 0 7.3 0a3.65 3.65 0 1 0 -7.3 0M637.5 533.2a3.65 3.65 0 1 0 7.3 0a3.65 3.65 0 1 0 -7.3 0M636.6 530.0a3.65 3.65 0 1 0 7.3 0a3.65 3.65 0 1 0 -7.3 0M635.4 533.8a3.65 3.65 0 1 0 7.3 0a3.65 3.65 0 1 0 -7.3 0M640.4 531.8a3.65 3.65 0 1 0 7.3 0a3.65 3.65 0 1 0 -7.3 0" fill="#3B2A99"/>
<path d="M597.8 393.8a3.65 3.65 0 1 0 7.3 0a3.65 3.65 0 1 0 -7.3 0M597.0 397.1a3.65 3.65 0 1 0 7.3 0a3.65 3.65 0 1 0 -7.3 0M598.1 399.7a3.65 3.65 0 1 0 7.3 0a3.65 3.65 0 1 0 -7.3 0M602.9 402.2a3.65 3.65 0 1 0 7.3 0a3.65 3.65 0 1 0 -7.3 0M600.4 400.8a3.65 3.65 0 1 0 7.3 0a3.65 3.65 0 1 0 -7.3 0M629.1 397.1a3.65 3.65 0 1 0 7.3 0a3.65 3.65 0 1 0 -7.3 0M630.0 395.4a3.65 3.65 0 1 0 7.3 0a3.65 3.65 0 1 0 -7.3 0M632.6 396.3a3.65 3.65 0 1 0 7.3 0a3.65 3.65 0 1 0 -7.3 0M635.5 396.7a3.65 3.65 0 1 0 7.3 0a3.65 3.65 0 1 0 -7.3 0" fill="#D4043C"/>
<path d="M687.8 536.2a3.65 3.65 0 1 0 7.3 0a3.65 3.65 0 1 0 -7.3 0M683.8 568.1a3.65 3.65 0 1 0 7.3 0a3.65 3.65 0 1 0 -7.3 0M687.1 562.9a3.65 3.65 0 1 0 7.3 0a3.65 3.65 0 1 0 -7.3 0M690.6 563.7a3.65 3.65 0 1 0 7.3 0a3.65 3.65 0 1 0 -7.3 0M694.2 562.9a3.65 3.65 0 1 0 7.3 0a3.65 3.65 0 1 0 -7.3 0M693.5 561.7a3.65 3.65 0 1 0 7.3 0a3.65 3.65 0 1 0 -7.3 0M699.9 558.9a3.65 3.65 0 1 0 7.3 0a3.65 3.65 0 1 0 -7.3 0M699.9 563.7a3.65 3.65 0 1 0 7.3 0a3.65 3.65 0 1 0 -7.3 0M703.1 562.1a3.65 3.65 0 1 0 7.3 0a3.65 3.65 0 1 0 -7.3 0M705.6 563.7a3.65 3.65 0 1 0 7.3 0a3.65 3.65 0 1 0 -7.3 0M706.4 553.2a3.65 3.65 0 1 0 7.3 0a3.65 3.65 0 1 0 -7.3 0M708.4 556.9a3.65 3.65 0 1 0 7.3 0a3.65 3.65 0 1 0 -7.3 0M704.0 556.1a3.65 3.65 0 1 0 7.3 0a3.65 3.65 0 1 0 -7.3 0M701.6 557.3a3.65 3.65 0 1 0 7.3 0a3.65 3.65 0 1 0 -7.3 0M707.1 560.9a3.65 3.65 0 1 0 7.3 0a3.65 3.65 0 1 0 -7.3 0M698.2 557.7a3.65 3.65 0 1 0 7.3 0a3.65 3.65 0 1 0 -7.3 0M685.4 565.3a3.65 3.65 0 1 0 7.3 0a3.65 3.65 0 1 0 -7.3 0M696.9 562.3a3.65 3.65 0 1 0 7.3 0a3.65 3.65 0 1 0 -7.3 0" fill="#3B2A99"/>
<path d="M665.0 489.0a3.65 3.65 0 1 0 7.3 0a3.65 3.65 0 1 0 -7.3 0M666.1 492.5a3.65 3.65 0 1 0 7.3 0a3.65 3.65 0 1 0 -7.3 0M666.8 495.5a3.65 3.65 0 1 0 7.3 0a3.65 3.65 0 1 0 -7.3 0M667.6 498.4a3.65 3.65 0 1 0 7.3 0a3.65 3.65 0 1 0 -7.3 0M668.0 500.1a3.65 3.65 0 1 0 7.3 0a3.65 3.65 0 1 0 -7.3 0M714.1 521.2a3.65 3.65 0 1 0 7.3 0a3.65 3.65 0 1 0 -7.3 0M716.1 522.4a3.65 3.65 0 1 0 7.3 0a3.65 3.65 0 1 0 -7.3 0M718.0 523.6a3.65 3.65 0 1 0 7.3 0a3.65 3.65 0 1 0 -7.3 0M720.0 524.7a3.65 3.65 0 1 0 7.3 0a3.65 3.65 0 1 0 -7.3 0M752.5 507.6a3.65 3.65 0 1 0 7.3 0a3.65 3.65 0 1 0 -7.3 0M755.1 506.2a3.65 3.65 0 1 0 7.3 0a3.65 3.65 0 1 0 -7.3 0M757.6 504.8a3.65 3.65 0 1 0 7.3 0a3.65 3.65 0 1 0 -7.3 0M760.1 503.4a3.65 3.65 0 1 0 7.3 0a3.65 3.65 0 1 0 -7.3 0M588.8 523.2a3.65 3.65 0 1 0 7.3 0a3.65 3.65 0 1 0 -7.3 0" fill="#D4043C"/>
<path d="M668.4 358.8a3.65 3.65 0 1 0 7.3 0a3.65 3.65 0 1 0 -7.3 0M681.4 344.8a3.65 3.65 0 1 0 7.3 0a3.65 3.65 0 1 0 -7.3 0M655.4 368.8a3.65 3.65 0 1 0 7.3 0a3.65 3.65 0 1 0 -7.3 0M689.4 380.8a3.65 3.65 0 1 0 7.3 0a3.65 3.65 0 1 0 -7.3 0M675.4 371.8a3.65 3.65 0 1 0 7.3 0a3.65 3.65 0 1 0 -7.3 0M661.1 356.7a3.65 3.65 0 1 0 7.3 0a3.65 3.65 0 1 0 -7.3 0" fill="#D8162E"/>
<path d="M673.4 351.8a3.65 3.65 0 1 0 7.3 0a3.65 3.65 0 1 0 -7.3 0M685.4 348.8a3.65 3.65 0 1 0 7.3 0a3.65 3.65 0 1 0 -7.3 0M695.4 388.8a3.65 3.65 0 1 0 7.3 0a3.65 3.65 0 1 0 -7.3 0M661.4 386.8a3.65 3.65 0 1 0 7.3 0a3.65 3.65 0 1 0 -7.3 0" fill="#E02C22"/>
<path d="M666.9 376.8a3.65 3.65 0 1 0 7.3 0a3.65 3.65 0 1 0 -7.3 0M664.9 380.8a3.65 3.65 0 1 0 7.3 0a3.65 3.65 0 1 0 -7.3 0" fill="#CE0C42"/>
<path d="M651.1 407.0a3.65 3.65 0 1 0 7.3 0a3.65 3.65 0 1 0 -7.3 0M597.8 393.8a3.65 3.65 0 1 0 7.3 0a3.65 3.65 0 1 0 -7.3 0M597.0 397.1a3.65 3.65 0 1 0 7.3 0a3.65 3.65 0 1 0 -7.3 0M598.1 399.7a3.65 3.65 0 1 0 7.3 0a3.65 3.65 0 1 0 -7.3 0M630.0 395.4a3.65 3.65 0 1 0 7.3 0a3.65 3.65 0 1 0 -7.3 0M632.6 396.3a3.65 3.65 0 1 0 7.3 0a3.65 3.65 0 1 0 -7.3 0" fill="#3B2A99"/>
<path d="M775.8 456.8a3.65 3.65 0 1 0 7.3 0a3.65 3.65 0 1 0 -7.3 0M778.2 473.7a3.65 3.65 0 1 0 7.3 0a3.65 3.65 0 1 0 -7.3 0M790.6 474.6a3.65 3.65 0 1 0 7.3 0a3.65 3.65 0 1 0 -7.3 0M768.1 487.3a3.65 3.65 0 1 0 7.3 0a3.65 3.65 0 1 0 -7.3 0M785.9 487.3a3.65 3.65 0 1 0 7.3 0a3.65 3.65 0 1 0 -7.3 0M784.1 491.5a3.65 3.65 0 1 0 7.3 0a3.65 3.65 0 1 0 -7.3 0M772.0 494.9a3.65 3.65 0 1 0 7.3 0a3.65 3.65 0 1 0 -7.3 0M795.2 497.5a3.65 3.65 0 1 0 7.3 0a3.65 3.65 0 1 0 -7.3 0M793.9 500.8a3.65 3.65 0 1 0 7.3 0a3.65 3.65 0 1 0 -7.3 0M782.6 509.3a3.65 3.65 0 1 0 7.3 0a3.65 3.65 0 1 0 -7.3 0M752.5 507.6a3.65 3.65 0 1 0 7.3 0a3.65 3.65 0 1 0 -7.3 0" fill="#D4043C"/>
<path d="M582.9 439.3a3.65 3.65 0 1 0 7.3 0a3.65 3.65 0 1 0 -7.3 0M650.9 499.4a3.65 3.65 0 1 0 7.3 0a3.65 3.65 0 1 0 -7.3 0" fill="#DC2234"/>
<path d="M610.5 472.7a3.65 3.65 0 1 0 7.3 0a3.65 3.65 0 1 0 -7.3 0M568.6 512.0a3.65 3.65 0 1 0 7.3 0a3.65 3.65 0 1 0 -7.3 0M578.8 528.3a3.65 3.65 0 1 0 7.3 0a3.65 3.65 0 1 0 -7.3 0M581.8 529.1a3.65 3.65 0 1 0 7.3 0a3.65 3.65 0 1 0 -7.3 0M583.5 532.1a3.65 3.65 0 1 0 7.3 0a3.65 3.65 0 1 0 -7.3 0M585.1 528.3a3.65 3.65 0 1 0 7.3 0a3.65 3.65 0 1 0 -7.3 0M617.9 533.7a3.65 3.65 0 1 0 7.3 0a3.65 3.65 0 1 0 -7.3 0M621.6 536.0a3.65 3.65 0 1 0 7.3 0a3.65 3.65 0 1 0 -7.3 0M637.6 522.8a3.65 3.65 0 1 0 7.3 0a3.65 3.65 0 1 0 -7.3 0M641.1 525.3a3.65 3.65 0 1 0 7.3 0a3.65 3.65 0 1 0 -7.3 0M638.0 537.4a3.65 3.65 0 1 0 7.3 0a3.65 3.65 0 1 0 -7.3 0" fill="#D4043C"/>
<path d="M755.1 506.2a3.65 3.65 0 1 0 7.3 0a3.65 3.65 0 1 0 -7.3 0M757.6 504.8a3.65 3.65 0 1 0 7.3 0a3.65 3.65 0 1 0 -7.3 0M760.1 503.4a3.65 3.65 0 1 0 7.3 0a3.65 3.65 0 1 0 -7.3 0M588.8 523.2a3.65 3.65 0 1 0 7.3 0a3.65 3.65 0 1 0 -7.3 0" fill="#3B2A99"/>
<path d="M683.8 568.1a3.65 3.65 0 1 0 7.3 0a3.65 3.65 0 1 0 -7.3 0M685.4 565.3a3.65 3.65 0 1 0 7.3 0a3.65 3.65 0 1 0 -7.3 0M704.0 556.1a3.65 3.65 0 1 0 7.3 0a3.65 3.65 0 1 0 -7.3 0" fill="#DC2234"/>
<use href="#epip" x="0.0" y="593.6" fill="#3B2A99"/><use href="#epib" x="0.0" y="593.6" fill="#3B2A99"/>
<ellipse cx="205.8" cy="668.5" rx="2.0" ry="1.5" fill="#fff"/>
<ellipse cx="201.4" cy="679.5" rx="1.4" ry="1.6" fill="#fff"/>
<path d="M237.8 691.5a3.65 3.65 0 1 0 7.3 0a3.65 3.65 0 1 0 -7.3 0M242.3 695.0a3.65 3.65 0 1 0 7.3 0a3.65 3.65 0 1 0 -7.3 0M244.0 700.4a3.65 3.65 0 1 0 7.3 0a3.65 3.65 0 1 0 -7.3 0M224.2 674.8a3.65 3.65 0 1 0 7.3 0a3.65 3.65 0 1 0 -7.3 0M231.3 698.1a3.65 3.65 0 1 0 7.3 0a3.65 3.65 0 1 0 -7.3 0M236.5 708.3a3.65 3.65 0 1 0 7.3 0a3.65 3.65 0 1 0 -7.3 0M242.7 709.1a3.65 3.65 0 1 0 7.3 0a3.65 3.65 0 1 0 -7.3 0M205.0 701.6a3.65 3.65 0 1 0 7.3 0a3.65 3.65 0 1 0 -7.3 0M201.0 708.6a3.65 3.65 0 1 0 7.3 0a3.65 3.65 0 1 0 -7.3 0M213.5 699.2a3.65 3.65 0 1 0 7.3 0a3.65 3.65 0 1 0 -7.3 0M214.9 705.4a3.65 3.65 0 1 0 7.3 0a3.65 3.65 0 1 0 -7.3 0M194.9 697.4a3.65 3.65 0 1 0 7.3 0a3.65 3.65 0 1 0 -7.3 0M180.2 696.6a3.65 3.65 0 1 0 7.3 0a3.65 3.65 0 1 0 -7.3 0M184.0 703.8a3.65 3.65 0 1 0 7.3 0a3.65 3.65 0 1 0 -7.3 0M235.8 717.9a3.65 3.65 0 1 0 7.3 0a3.65 3.65 0 1 0 -7.3 0M230.2 725.3a3.65 3.65 0 1 0 7.3 0a3.65 3.65 0 1 0 -7.3 0M222.8 739.4a3.65 3.65 0 1 0 7.3 0a3.65 3.65 0 1 0 -7.3 0" fill="#3B2A99"/>
<use href="#immp" x="0.0" y="593.6" fill="#3B2A99"/><use href="#immb" x="0.0" y="593.6" fill="#3B2A99"/>
<path d="M308.7 753.6a3.65 3.65 0 1 0 7.3 0a3.65 3.65 0 1 0 -7.3 0M115.8 736.1a3.65 3.65 0 1 0 7.3 0a3.65 3.65 0 1 0 -7.3 0M143.4 769.5a3.65 3.65 0 1 0 7.3 0a3.65 3.65 0 1 0 -7.3 0M144.5 771.4a3.65 3.65 0 1 0 7.3 0a3.65 3.65 0 1 0 -7.3 0M151.2 778.9a3.65 3.65 0 1 0 7.3 0a3.65 3.65 0 1 0 -7.3 0M183.8 796.2a3.65 3.65 0 1 0 7.3 0a3.65 3.65 0 1 0 -7.3 0M101.8 803.6a3.65 3.65 0 1 0 7.3 0a3.65 3.65 0 1 0 -7.3 0M103.0 804.8a3.65 3.65 0 1 0 7.3 0a3.65 3.65 0 1 0 -7.3 0M101.5 808.8a3.65 3.65 0 1 0 7.3 0a3.65 3.65 0 1 0 -7.3 0M101.9 806.6a3.65 3.65 0 1 0 7.3 0a3.65 3.65 0 1 0 -7.3 0M117.8 817.6a3.65 3.65 0 1 0 7.3 0a3.65 3.65 0 1 0 -7.3 0M121.5 821.7a3.65 3.65 0 1 0 7.3 0a3.65 3.65 0 1 0 -7.3 0M111.8 825.1a3.65 3.65 0 1 0 7.3 0a3.65 3.65 0 1 0 -7.3 0M116.4 828.9a3.65 3.65 0 1 0 7.3 0a3.65 3.65 0 1 0 -7.3 0M114.8 825.9a3.65 3.65 0 1 0 7.3 0a3.65 3.65 0 1 0 -7.3 0M118.1 825.1a3.65 3.65 0 1 0 7.3 0a3.65 3.65 0 1 0 -7.3 0M113.0 827.2a3.65 3.65 0 1 0 7.3 0a3.65 3.65 0 1 0 -7.3 0M119.3 823.1a3.65 3.65 0 1 0 7.3 0a3.65 3.65 0 1 0 -7.3 0M151.8 826.8a3.65 3.65 0 1 0 7.3 0a3.65 3.65 0 1 0 -7.3 0M150.8 830.5a3.65 3.65 0 1 0 7.3 0a3.65 3.65 0 1 0 -7.3 0M154.7 832.8a3.65 3.65 0 1 0 7.3 0a3.65 3.65 0 1 0 -7.3 0M156.9 828.2a3.65 3.65 0 1 0 7.3 0a3.65 3.65 0 1 0 -7.3 0M160.7 830.5a3.65 3.65 0 1 0 7.3 0a3.65 3.65 0 1 0 -7.3 0M158.3 831.9a3.65 3.65 0 1 0 7.3 0a3.65 3.65 0 1 0 -7.3 0M153.8 829.6a3.65 3.65 0 1 0 7.3 0a3.65 3.65 0 1 0 -7.3 0M170.7 817.0a3.65 3.65 0 1 0 7.3 0a3.65 3.65 0 1 0 -7.3 0M167.2 821.2a3.65 3.65 0 1 0 7.3 0a3.65 3.65 0 1 0 -7.3 0M174.2 822.1a3.65 3.65 0 1 0 7.3 0a3.65 3.65 0 1 0 -7.3 0M172.3 824.9a3.65 3.65 0 1 0 7.3 0a3.65 3.65 0 1 0 -7.3 0M176.5 827.2a3.65 3.65 0 1 0 7.3 0a3.65 3.65 0 1 0 -7.3 0M166.8 833.8a3.65 3.65 0 1 0 7.3 0a3.65 3.65 0 1 0 -7.3 0M170.9 834.2a3.65 3.65 0 1 0 7.3 0a3.65 3.65 0 1 0 -7.3 0M174.7 832.8a3.65 3.65 0 1 0 7.3 0a3.65 3.65 0 1 0 -7.3 0M181.7 833.8a3.65 3.65 0 1 0 7.3 0a3.65 3.65 0 1 0 -7.3 0M178.3 831.0a3.65 3.65 0 1 0 7.3 0a3.65 3.65 0 1 0 -7.3 0M170.4 830.0a3.65 3.65 0 1 0 7.3 0a3.65 3.65 0 1 0 -7.3 0M169.5 826.8a3.65 3.65 0 1 0 7.3 0a3.65 3.65 0 1 0 -7.3 0M168.3 830.6a3.65 3.65 0 1 0 7.3 0a3.65 3.65 0 1 0 -7.3 0M173.3 828.6a3.65 3.65 0 1 0 7.3 0a3.65 3.65 0 1 0 -7.3 0" fill="#3B2A99"/>
<path d="M130.8 690.6a3.65 3.65 0 1 0 7.3 0a3.65 3.65 0 1 0 -7.3 0M129.9 693.9a3.65 3.65 0 1 0 7.3 0a3.65 3.65 0 1 0 -7.3 0M131.2 696.5a3.65 3.65 0 1 0 7.3 0a3.65 3.65 0 1 0 -7.3 0M135.8 699.0a3.65 3.65 0 1 0 7.3 0a3.65 3.65 0 1 0 -7.3 0M133.3 697.6a3.65 3.65 0 1 0 7.3 0a3.65 3.65 0 1 0 -7.3 0M162.2 693.9a3.65 3.65 0 1 0 7.3 0a3.65 3.65 0 1 0 -7.3 0M162.9 692.2a3.65 3.65 0 1 0 7.3 0a3.65 3.65 0 1 0 -7.3 0M165.5 693.1a3.65 3.65 0 1 0 7.3 0a3.65 3.65 0 1 0 -7.3 0M168.4 693.5a3.65 3.65 0 1 0 7.3 0a3.65 3.65 0 1 0 -7.3 0" fill="#3B2A99"/>
<path d="M220.8 833.0a3.65 3.65 0 1 0 7.3 0a3.65 3.65 0 1 0 -7.3 0M216.8 864.9a3.65 3.65 0 1 0 7.3 0a3.65 3.65 0 1 0 -7.3 0M220.0 859.7a3.65 3.65 0 1 0 7.3 0a3.65 3.65 0 1 0 -7.3 0M223.7 860.5a3.65 3.65 0 1 0 7.3 0a3.65 3.65 0 1 0 -7.3 0M227.2 859.7a3.65 3.65 0 1 0 7.3 0a3.65 3.65 0 1 0 -7.3 0M226.4 858.5a3.65 3.65 0 1 0 7.3 0a3.65 3.65 0 1 0 -7.3 0M232.8 855.7a3.65 3.65 0 1 0 7.3 0a3.65 3.65 0 1 0 -7.3 0M232.8 860.5a3.65 3.65 0 1 0 7.3 0a3.65 3.65 0 1 0 -7.3 0M236.2 858.9a3.65 3.65 0 1 0 7.3 0a3.65 3.65 0 1 0 -7.3 0M238.5 860.5a3.65 3.65 0 1 0 7.3 0a3.65 3.65 0 1 0 -7.3 0M239.3 850.0a3.65 3.65 0 1 0 7.3 0a3.65 3.65 0 1 0 -7.3 0M241.3 853.7a3.65 3.65 0 1 0 7.3 0a3.65 3.65 0 1 0 -7.3 0M236.9 852.9a3.65 3.65 0 1 0 7.3 0a3.65 3.65 0 1 0 -7.3 0M234.5 854.1a3.65 3.65 0 1 0 7.3 0a3.65 3.65 0 1 0 -7.3 0M240.2 857.7a3.65 3.65 0 1 0 7.3 0a3.65 3.65 0 1 0 -7.3 0M231.2 854.5a3.65 3.65 0 1 0 7.3 0a3.65 3.65 0 1 0 -7.3 0M218.3 862.1a3.65 3.65 0 1 0 7.3 0a3.65 3.65 0 1 0 -7.3 0M229.8 859.1a3.65 3.65 0 1 0 7.3 0a3.65 3.65 0 1 0 -7.3 0" fill="#3B2A99"/>
<path d="M197.9 785.8a3.65 3.65 0 1 0 7.3 0a3.65 3.65 0 1 0 -7.3 0M199.2 789.3a3.65 3.65 0 1 0 7.3 0a3.65 3.65 0 1 0 -7.3 0M199.8 792.3a3.65 3.65 0 1 0 7.3 0a3.65 3.65 0 1 0 -7.3 0M200.5 795.2a3.65 3.65 0 1 0 7.3 0a3.65 3.65 0 1 0 -7.3 0M200.9 796.9a3.65 3.65 0 1 0 7.3 0a3.65 3.65 0 1 0 -7.3 0M247.2 818.0a3.65 3.65 0 1 0 7.3 0a3.65 3.65 0 1 0 -7.3 0M249.2 819.2a3.65 3.65 0 1 0 7.3 0a3.65 3.65 0 1 0 -7.3 0M250.9 820.4a3.65 3.65 0 1 0 7.3 0a3.65 3.65 0 1 0 -7.3 0M253.0 821.5a3.65 3.65 0 1 0 7.3 0a3.65 3.65 0 1 0 -7.3 0M285.5 804.4a3.65 3.65 0 1 0 7.3 0a3.65 3.65 0 1 0 -7.3 0M288.1 803.0a3.65 3.65 0 1 0 7.3 0a3.65 3.65 0 1 0 -7.3 0M290.7 801.6a3.65 3.65 0 1 0 7.3 0a3.65 3.65 0 1 0 -7.3 0M293.2 800.2a3.65 3.65 0 1 0 7.3 0a3.65 3.65 0 1 0 -7.3 0M121.8 820.0a3.65 3.65 0 1 0 7.3 0a3.65 3.65 0 1 0 -7.3 0" fill="#3B2A99"/>
<path d="M161.9 693.8a3.65 3.65 0 1 0 7.3 0a3.65 3.65 0 1 0 -7.3 0M227.8 615.1a3.65 3.65 0 1 0 7.3 0a3.65 3.65 0 1 0 -7.3 0M223.8 636.4a3.65 3.65 0 1 0 7.3 0a3.65 3.65 0 1 0 -7.3 0M213.7 699.1a3.65 3.65 0 1 0 7.3 0a3.65 3.65 0 1 0 -7.3 0" fill="#D4043C"/>
<path d="M214.2 641.7a3.65 3.65 0 1 0 7.3 0a3.65 3.65 0 1 0 -7.3 0M221.0 645.4a3.65 3.65 0 1 0 7.3 0a3.65 3.65 0 1 0 -7.3 0M220.0 666.6a3.65 3.65 0 1 0 7.3 0a3.65 3.65 0 1 0 -7.3 0M180.2 670.4a3.65 3.65 0 1 0 7.3 0a3.65 3.65 0 1 0 -7.3 0M210.9 675.1a3.65 3.65 0 1 0 7.3 0a3.65 3.65 0 1 0 -7.3 0M200.3 677.3a3.65 3.65 0 1 0 7.3 0a3.65 3.65 0 1 0 -7.3 0M193.4 679.4a3.65 3.65 0 1 0 7.3 0a3.65 3.65 0 1 0 -7.3 0M225.8 681.0a3.65 3.65 0 1 0 7.3 0a3.65 3.65 0 1 0 -7.3 0M243.9 701.2a3.65 3.65 0 1 0 7.3 0a3.65 3.65 0 1 0 -7.3 0" fill="#DC2234"/>
<path d="M218.9 648.6a3.65 3.65 0 1 0 7.3 0a3.65 3.65 0 1 0 -7.3 0M217.3 663.8a3.65 3.65 0 1 0 7.3 0a3.65 3.65 0 1 0 -7.3 0M207.3 674.2a3.65 3.65 0 1 0 7.3 0a3.65 3.65 0 1 0 -7.3 0M203.2 674.5a3.65 3.65 0 1 0 7.3 0a3.65 3.65 0 1 0 -7.3 0M196.8 677.1a3.65 3.65 0 1 0 7.3 0a3.65 3.65 0 1 0 -7.3 0M226.3 684.6a3.65 3.65 0 1 0 7.3 0a3.65 3.65 0 1 0 -7.3 0" fill="#3B2A99"/>
<use href="#epip" x="467.0" y="593.6" fill="#3B2A99"/><use href="#epib" x="467.0" y="593.6" fill="#3B2A99"/>
<ellipse cx="672.8" cy="668.5" rx="2.0" ry="1.5" fill="#fff"/>
<ellipse cx="668.4" cy="679.5" rx="1.4" ry="1.6" fill="#fff"/>
<path d="M704.8 691.5a3.65 3.65 0 1 0 7.3 0a3.65 3.65 0 1 0 -7.3 0M709.4 695.0a3.65 3.65 0 1 0 7.3 0a3.65 3.65 0 1 0 -7.3 0M711.1 700.4a3.65 3.65 0 1 0 7.3 0a3.65 3.65 0 1 0 -7.3 0M691.2 674.8a3.65 3.65 0 1 0 7.3 0a3.65 3.65 0 1 0 -7.3 0M698.4 698.1a3.65 3.65 0 1 0 7.3 0a3.65 3.65 0 1 0 -7.3 0M703.6 708.3a3.65 3.65 0 1 0 7.3 0a3.65 3.65 0 1 0 -7.3 0M709.6 709.1a3.65 3.65 0 1 0 7.3 0a3.65 3.65 0 1 0 -7.3 0M672.1 701.6a3.65 3.65 0 1 0 7.3 0a3.65 3.65 0 1 0 -7.3 0M668.1 708.6a3.65 3.65 0 1 0 7.3 0a3.65 3.65 0 1 0 -7.3 0M680.6 699.2a3.65 3.65 0 1 0 7.3 0a3.65 3.65 0 1 0 -7.3 0M682.0 705.4a3.65 3.65 0 1 0 7.3 0a3.65 3.65 0 1 0 -7.3 0M662.0 697.4a3.65 3.65 0 1 0 7.3 0a3.65 3.65 0 1 0 -7.3 0M647.2 696.6a3.65 3.65 0 1 0 7.3 0a3.65 3.65 0 1 0 -7.3 0M651.1 703.8a3.65 3.65 0 1 0 7.3 0a3.65 3.65 0 1 0 -7.3 0M702.9 717.9a3.65 3.65 0 1 0 7.3 0a3.65 3.65 0 1 0 -7.3 0M697.1 725.3a3.65 3.65 0 1 0 7.3 0a3.65 3.65 0 1 0 -7.3 0M689.8 739.4a3.65 3.65 0 1 0 7.3 0a3.65 3.65 0 1 0 -7.3 0" fill="#3B2A99"/>
<use href="#immp" x="467.0" y="593.6" fill="#3B2A99"/><use href="#immb" x="467.0" y="593.6" fill="#3B2A99"/>
<path d="M775.6 753.6a3.65 3.65 0 1 0 7.3 0a3.65 3.65 0 1 0 -7.3 0M582.9 736.1a3.65 3.65 0 1 0 7.3 0a3.65 3.65 0 1 0 -7.3 0M610.5 769.5a3.65 3.65 0 1 0 7.3 0a3.65 3.65 0 1 0 -7.3 0M611.6 771.4a3.65 3.65 0 1 0 7.3 0a3.65 3.65 0 1 0 -7.3 0M618.2 778.9a3.65 3.65 0 1 0 7.3 0a3.65 3.65 0 1 0 -7.3 0M650.9 796.2a3.65 3.65 0 1 0 7.3 0a3.65 3.65 0 1 0 -7.3 0M568.8 803.6a3.65 3.65 0 1 0 7.3 0a3.65 3.65 0 1 0 -7.3 0M570.1 804.8a3.65 3.65 0 1 0 7.3 0a3.65 3.65 0 1 0 -7.3 0M568.6 808.8a3.65 3.65 0 1 0 7.3 0a3.65 3.65 0 1 0 -7.3 0M569.0 806.6a3.65 3.65 0 1 0 7.3 0a3.65 3.65 0 1 0 -7.3 0M584.8 817.6a3.65 3.65 0 1 0 7.3 0a3.65 3.65 0 1 0 -7.3 0M588.6 821.7a3.65 3.65 0 1 0 7.3 0a3.65 3.65 0 1 0 -7.3 0M578.8 825.1a3.65 3.65 0 1 0 7.3 0a3.65 3.65 0 1 0 -7.3 0M583.5 828.9a3.65 3.65 0 1 0 7.3 0a3.65 3.65 0 1 0 -7.3 0M581.8 825.9a3.65 3.65 0 1 0 7.3 0a3.65 3.65 0 1 0 -7.3 0M585.1 825.1a3.65 3.65 0 1 0 7.3 0a3.65 3.65 0 1 0 -7.3 0M580.1 827.2a3.65 3.65 0 1 0 7.3 0a3.65 3.65 0 1 0 -7.3 0M586.4 823.1a3.65 3.65 0 1 0 7.3 0a3.65 3.65 0 1 0 -7.3 0M618.9 826.8a3.65 3.65 0 1 0 7.3 0a3.65 3.65 0 1 0 -7.3 0M617.9 830.5a3.65 3.65 0 1 0 7.3 0a3.65 3.65 0 1 0 -7.3 0M621.6 832.8a3.65 3.65 0 1 0 7.3 0a3.65 3.65 0 1 0 -7.3 0M624.0 828.2a3.65 3.65 0 1 0 7.3 0a3.65 3.65 0 1 0 -7.3 0M627.6 830.5a3.65 3.65 0 1 0 7.3 0a3.65 3.65 0 1 0 -7.3 0M625.4 831.9a3.65 3.65 0 1 0 7.3 0a3.65 3.65 0 1 0 -7.3 0M620.9 829.6a3.65 3.65 0 1 0 7.3 0a3.65 3.65 0 1 0 -7.3 0M637.6 817.0a3.65 3.65 0 1 0 7.3 0a3.65 3.65 0 1 0 -7.3 0M634.1 821.2a3.65 3.65 0 1 0 7.3 0a3.65 3.65 0 1 0 -7.3 0M641.1 822.1a3.65 3.65 0 1 0 7.3 0a3.65 3.65 0 1 0 -7.3 0M639.4 824.9a3.65 3.65 0 1 0 7.3 0a3.65 3.65 0 1 0 -7.3 0M643.6 827.2a3.65 3.65 0 1 0 7.3 0a3.65 3.65 0 1 0 -7.3 0M633.8 833.8a3.65 3.65 0 1 0 7.3 0a3.65 3.65 0 1 0 -7.3 0M638.0 834.2a3.65 3.65 0 1 0 7.3 0a3.65 3.65 0 1 0 -7.3 0M641.6 832.8a3.65 3.65 0 1 0 7.3 0a3.65 3.65 0 1 0 -7.3 0M648.6 833.8a3.65 3.65 0 1 0 7.3 0a3.65 3.65 0 1 0 -7.3 0M645.4 831.0a3.65 3.65 0 1 0 7.3 0a3.65 3.65 0 1 0 -7.3 0M637.5 830.0a3.65 3.65 0 1 0 7.3 0a3.65 3.65 0 1 0 -7.3 0M636.6 826.8a3.65 3.65 0 1 0 7.3 0a3.65 3.65 0 1 0 -7.3 0M635.4 830.6a3.65 3.65 0 1 0 7.3 0a3.65 3.65 0 1 0 -7.3 0M640.4 828.6a3.65 3.65 0 1 0 7.3 0a3.65 3.65 0 1 0 -7.3 0" fill="#3B2A99"/>
<path d="M597.8 690.6a3.65 3.65 0 1 0 7.3 0a3.65 3.65 0 1 0 -7.3 0M597.0 693.9a3.65 3.65 0 1 0 7.3 0a3.65 3.65 0 1 0 -7.3 0M598.1 696.5a3.65 3.65 0 1 0 7.3 0a3.65 3.65 0 1 0 -7.3 0M602.9 699.0a3.65 3.65 0 1 0 7.3 0a3.65 3.65 0 1 0 -7.3 0M600.4 697.6a3.65 3.65 0 1 0 7.3 0a3.65 3.65 0 1 0 -7.3 0M629.1 693.9a3.65 3.65 0 1 0 7.3 0a3.65 3.65 0 1 0 -7.3 0M630.0 692.2a3.65 3.65 0 1 0 7.3 0a3.65 3.65 0 1 0 -7.3 0M632.6 693.1a3.65 3.65 0 1 0 7.3 0a3.65 3.65 0 1 0 -7.3 0M635.5 693.5a3.65 3.65 0 1 0 7.3 0a3.65 3.65 0 1 0 -7.3 0" fill="#3B2A99"/>
<path d="M687.8 833.0a3.65 3.65 0 1 0 7.3 0a3.65 3.65 0 1 0 -7.3 0M683.8 864.9a3.65 3.65 0 1 0 7.3 0a3.65 3.65 0 1 0 -7.3 0M687.1 859.7a3.65 3.65 0 1 0 7.3 0a3.65 3.65 0 1 0 -7.3 0M690.6 860.5a3.65 3.65 0 1 0 7.3 0a3.65 3.65 0 1 0 -7.3 0M694.2 859.7a3.65 3.65 0 1 0 7.3 0a3.65 3.65 0 1 0 -7.3 0M693.5 858.5a3.65 3.65 0 1 0 7.3 0a3.65 3.65 0 1 0 -7.3 0M699.9 855.7a3.65 3.65 0 1 0 7.3 0a3.65 3.65 0 1 0 -7.3 0M699.9 860.5a3.65 3.65 0 1 0 7.3 0a3.65 3.65 0 1 0 -7.3 0M703.1 858.9a3.65 3.65 0 1 0 7.3 0a3.65 3.65 0 1 0 -7.3 0M705.6 860.5a3.65 3.65 0 1 0 7.3 0a3.65 3.65 0 1 0 -7.3 0M706.4 850.0a3.65 3.65 0 1 0 7.3 0a3.65 3.65 0 1 0 -7.3 0M708.4 853.7a3.65 3.65 0 1 0 7.3 0a3.65 3.65 0 1 0 -7.3 0M704.0 852.9a3.65 3.65 0 1 0 7.3 0a3.65 3.65 0 1 0 -7.3 0M701.6 854.1a3.65 3.65 0 1 0 7.3 0a3.65 3.65 0 1 0 -7.3 0M707.1 857.7a3.65 3.65 0 1 0 7.3 0a3.65 3.65 0 1 0 -7.3 0M698.2 854.5a3.65 3.65 0 1 0 7.3 0a3.65 3.65 0 1 0 -7.3 0M685.4 862.1a3.65 3.65 0 1 0 7.3 0a3.65 3.65 0 1 0 -7.3 0M696.9 859.1a3.65 3.65 0 1 0 7.3 0a3.65 3.65 0 1 0 -7.3 0" fill="#3B2A99"/>
<path d="M665.0 785.8a3.65 3.65 0 1 0 7.3 0a3.65 3.65 0 1 0 -7.3 0M666.1 789.3a3.65 3.65 0 1 0 7.3 0a3.65 3.65 0 1 0 -7.3 0M666.8 792.3a3.65 3.65 0 1 0 7.3 0a3.65 3.65 0 1 0 -7.3 0M667.6 795.2a3.65 3.65 0 1 0 7.3 0a3.65 3.65 0 1 0 -7.3 0M668.0 796.9a3.65 3.65 0 1 0 7.3 0a3.65 3.65 0 1 0 -7.3 0M714.1 818.0a3.65 3.65 0 1 0 7.3 0a3.65 3.65 0 1 0 -7.3 0M716.1 819.2a3.65 3.65 0 1 0 7.3 0a3.65 3.65 0 1 0 -7.3 0M718.0 820.4a3.65 3.65 0 1 0 7.3 0a3.65 3.65 0 1 0 -7.3 0M720.0 821.5a3.65 3.65 0 1 0 7.3 0a3.65 3.65 0 1 0 -7.3 0M752.5 804.4a3.65 3.65 0 1 0 7.3 0a3.65 3.65 0 1 0 -7.3 0M755.1 803.0a3.65 3.65 0 1 0 7.3 0a3.65 3.65 0 1 0 -7.3 0M757.6 801.6a3.65 3.65 0 1 0 7.3 0a3.65 3.65 0 1 0 -7.3 0M760.1 800.2a3.65 3.65 0 1 0 7.3 0a3.65 3.65 0 1 0 -7.3 0M588.8 820.0a3.65 3.65 0 1 0 7.3 0a3.65 3.65 0 1 0 -7.3 0" fill="#3B2A99"/>
<text x="835.6" y="82.8" font-family="Liberation Sans, sans-serif" font-size="31.6" font-style="italic">CFTR</text>
<rect x="835.0" y="102.0" width="26.7" height="134.3" fill="url(#grad)"/>
<text x="877.2" y="139.0" font-family="Liberation Sans, sans-serif" font-size="25">6</text>
<text x="877.2" y="174.3" font-family="Liberation Sans, sans-serif" font-size="25">4</text>
<text x="877.2" y="209.6" font-family="Liberation Sans, sans-serif" font-size="25">2</text>
<text x="877.2" y="244.9" font-family="Liberation Sans, sans-serif" font-size="25">0</text>
<path d="M835.0 130.4h5.2M856.5 130.4h5.2M835.0 165.7h5.2M856.5 165.7h5.2M835.0 201.0h5.2M856.5 201.0h5.2M835.0 236.3h5.2M856.5 236.3h5.2" stroke="#fff" stroke-opacity="0.7" stroke-width="1.1"/>
<text x="368.6" y="379.6" font-family="Liberation Sans, sans-serif" font-size="31.6" font-style="italic" textLength="130.1" lengthAdjust="spacing">MUC5AC</text>
<rect x="368.0" y="398.8" width="26.7" height="134.3" fill="url(#grad)"/>
<text x="410.2" y="434.5" font-family="Liberation Sans, sans-serif" font-size="25">7.5</text>
<text x="410.2" y="470.3" font-family="Liberation Sans, sans-serif" font-size="25">5.0</text>
<text x="410.2" y="506.0" font-family="Liberation Sans, sans-serif" font-size="25">2.5</text>
<text x="410.2" y="541.7" font-family="Liberation Sans, sans-serif" font-size="25">0.0</text>
<path d="M368.0 425.9h5.2M389.5 425.9h5.2M368.0 461.7h5.2M389.5 461.7h5.2M368.0 497.4h5.2M389.5 497.4h5.2M368.0 533.1h5.2M389.5 533.1h5.2" stroke="#fff" stroke-opacity="0.7" stroke-width="1.1"/>
<text x="835.6" y="379.6" font-family="Liberation Sans, sans-serif" font-size="31.6" font-style="italic">MUC5B</text>
<rect x="835.0" y="398.8" width="26.7" height="134.3" fill="url(#grad)"/>
<text x="877.2" y="435.7" font-family="Liberation Sans, sans-serif" font-size="25">7.5</text>
<text x="877.2" y="471.0" font-family="Liberation Sans, sans-serif" font-size="25">5.0</text>
<text x="877.2" y="506.4" font-family="Liberation Sans, sans-serif" font-size="25">2.5</text>
<text x="877.2" y="541.7" font-family="Liberation Sans, sans-serif" font-size="25">0.0</text>
<path d="M835.0 427.1h5.2M856.5 427.1h5.2M835.0 462.4h5.2M856.5 462.4h5.2M835.0 497.8h5.2M856.5 497.8h5.2M835.0 533.1h5.2M856.5 533.1h5.2" stroke="#fff" stroke-opacity="0.7" stroke-width="1.1"/>
<text x="368.6" y="676.4" font-family="Liberation Sans, sans-serif" font-size="31.6" font-style="italic">MUC2</text>
<rect x="368.0" y="695.6" width="26.7" height="134.3" fill="url(#grad)"/>
<text x="410.2" y="711.1" font-family="Liberation Sans, sans-serif" font-size="25">5</text>
<text x="410.2" y="736.6" font-family="Liberation Sans, sans-serif" font-size="25">4</text>
<text x="410.2" y="762.0" font-family="Liberation Sans, sans-serif" font-size="25">3</text>
<text x="410.2" y="787.5" font-family="Liberation Sans, sans-serif" font-size="25">2</text>
<text x="410.2" y="813.0" font-family="Liberation Sans, sans-serif" font-size="25">1</text>
<text x="410.2" y="838.5" font-family="Liberation Sans, sans-serif" font-size="25">0</text>
<path d="M368.0 702.5h5.2M389.5 702.5h5.2M368.0 728.0h5.2M389.5 728.0h5.2M368.0 753.4h5.2M389.5 753.4h5.2M368.0 778.9h5.2M389.5 778.9h5.2M368.0 804.4h5.2M389.5 804.4h5.2M368.0 829.9h5.2M389.5 829.9h5.2" stroke="#fff" stroke-opacity="0.7" stroke-width="1.1"/>
<text x="835.6" y="676.4" font-family="Liberation Sans, sans-serif" font-size="31.6" font-style="italic">MUC6</text>
<rect x="835.0" y="695.6" width="26.7" height="134.3" fill="#3B2A99"/>
<text x="877.2" y="771.4" font-family="Liberation Sans, sans-serif" font-size="25">0</text>
<path d="M835.0 762.8h5.2M856.5 762.8h5.2" stroke="#fff" stroke-opacity="0.7" stroke-width="1.1"/>
</svg></body></html>
